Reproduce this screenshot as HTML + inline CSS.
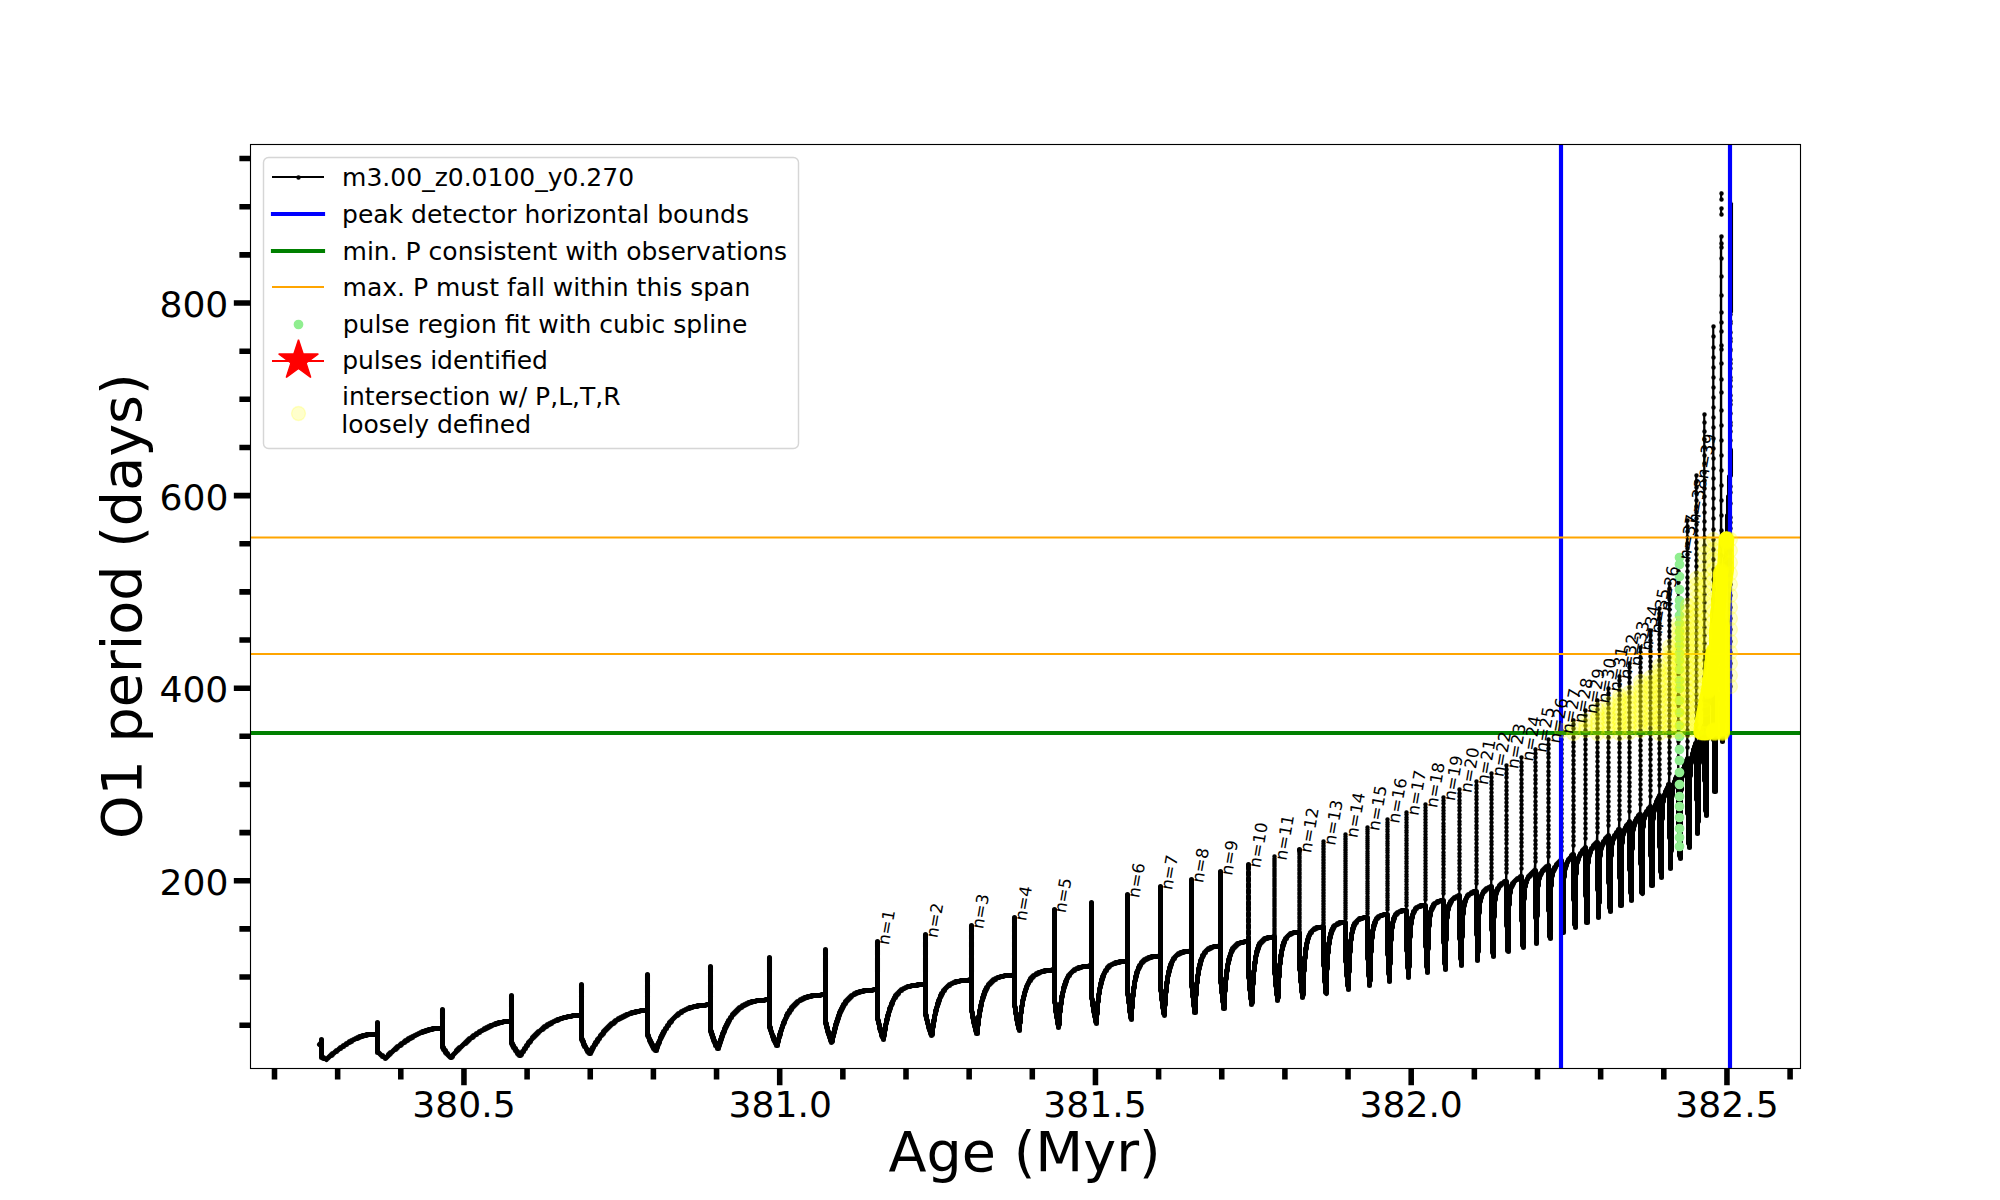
<!DOCTYPE html>
<html lang="en"><head><meta charset="utf-8"><title>O1 period vs Age</title>
<style>html,body{margin:0;padding:0;background:#fff}body{width:2000px;height:1200px;overflow:hidden}svg{display:block}</style>
</head><body>
<svg xmlns="http://www.w3.org/2000/svg" width="2000" height="1200" viewBox="0 0 2000 1200">
<rect width="2000" height="1200" fill="#fff"/>
<clipPath id="ax"><rect x="250" y="144" width="1550" height="924"/></clipPath>
<g clip-path="url(#ax)">
<path d="M319.1 1044l1-1l1.1-0.5l0-3.1l0.2 0.3l0 16.8l2.9 1.6l1.7 0.6l7.6-6.4l7.7-5.7l7.2-4.7l6.8-3.6l5.8-2.5l4.8-1.3l1.8-0.2l9.1 0l0.4-0.5l0-11.4l0.2 0.3l0 28.8l4.8 4.2l1.9 1.3l1.2 0.5l7.1-6.9l7.2-6.1l7.4-5.2l7.3-4.3l7.8-3.5l7.3-2.4l5.8-1l6.7-0.1l0.3-0.5l0-18.9l0.2 0.3l0 38.1l2.5 3.9l2.2 2.9l1.8 2.1l1.5 1.1l7.6-8.3l7.6-7.1l7.7-6.2l7.9-5.2l4.3-2.4l4.1-2l4.1-1.7l3.9-1.4l3.5-0.9l3.5-0.6l6.3-0.2l0.3-0.5l0-25.5l0.2 0.3l0 47.7l2.5 4.3l2.5 3.8l2.2 2.8l1.4 1.1l3-5l3.1-4.5l3.2-4.4l3.2-3.8l3.4-3.6l3.3-3.1l3.5-2.9l3.6-2.6l3.9-2.4l3.6-1.8l4.2-1.8l4.2-1.5l4-1l4-0.8l5.3-0.7l5-0.1l0.7-0.5l0-30.1l0.2 0.3l0 54.3l2.5 5.3l2.1 4l1.9 3.1l1.5 1.6l2.8-5.2l3-5l3-4.5l3-4l3.2-3.9l3.4-3.6l3.3-3l3.6-2.9l3.7-2.5l3.9-2.3l3.7-1.7l4.2-1.6l4.4-1.3l4.4-0.9l4.5-0.5l3.6-0.1l0.1-36l0.2 0.3l0 60.7l2.5 5.8l2.2 4.4l1.8 3.1l1.5 1.7l2.4-6.3l2.3-5.5l2.3-4.8l2.7-4.8l2.7-4.1l2.7-3.6l3-3.4l3-2.8l3.3-2.4l3.4-2.1l3.7-1.8l3.8-1.4l4.4-1.1l4.9-0.9l4.9-0.5l5-0.1l0.3-0.5l0-37.9l0.2 0.3l0 64.7l2.2 6.4l2 5.1l1.7 3.7l1.3 1.8l2.1-6.9l2-6l2.2-5.4l2.2-4.9l2.4-4.4l2.6-4.2l2.8-3.6l2.8-2.9l3.1-2.6l3-2l3.2-1.7l3.8-1.4l4.3-1.2l4.5-0.8l4.9-0.4l5.4-0.2l0.3-0.6l0-41.8l0.2 0.3l0 69.7l2.2 6.9l2.1 5.5l1.6 3.7l1.3 1.9l1.8-7.5l1.9-6.5l2-6l2-5l2.1-4.5l2.4-4.3l2.3-3.4l2.6-3.1l2.6-2.5l2.9-2.1l3.2-1.8l3.8-1.5l3.9-1.1l4.4-0.7l5-0.4l5.4-0.2l0.3-0.6l0-44.8l0.2 0.3l0 73.7l3.4 12.7l1.5 4.3l1.1 2l1.6-7.9l1.7-7l1.7-6.1l1.9-5.6l2-5l2-4l2.3-3.9l2.5-3.2l2.5-2.6l2.5-1.9l2.7-1.6l3.3-1.4l3-0.9l3.6-0.7l5.3-0.6l6.8-0.2l0.4-0.6l0-47.8l0.2 0.3l0 77.7l3.2 13.2l1.4 4.3l1 2l2.8-16l1.5-6.6l1.5-5.6l1.7-5.2l1.7-4.1l1.9-3.6l2.3-3.4l2.4-2.7l2.4-2l2.7-1.6l2.9-1.2l3.5-1l4-0.7l4.9-0.5l5.9-0.3l0.1-50l0.2 0.3l0 80.7l3.5 13.7l1.5 4.3l1 2l0.9-7.6l1.2-7.6l1.3-6.7l1.5-6.1l1.5-5.2l1.7-4.7l1.8-3.6l2.1-3.5l2-2.5l2.3-2.1l2.6-1.8l2.8-1.4l3-1l3.1-0.7l4.9-0.6l6.8-0.5l0.3-0.6l0-53.8l0.2 0.3l0 85.7l3.1 15.1l1.2 4.8l0.9 2.1l0.7-7.6l1-8.1l1.2-7.2l1.3-6.6l1.5-5.7l1.5-4.7l1.8-4.2l1.7-3.1l1.9-2.6l2.2-2.3l2.5-1.9l2.7-1.5l2.6-1l3-0.8l4.9-0.8l6.8-0.5l0.3-0.6l0-56.8l0.2 0.3l0 88.7l2.6 16.1l1.2 5.3l0.8 2.6l0.5-7.7l0.9-8.5l1-7.6l1.2-6.7l1.2-5.7l1.4-4.8l1.6-4.2l1.8-3.7l1.8-2.6l2-2.4l2.5-2l2.7-1.6l2.5-1l3.1-0.8l4.4-0.8l5.9-0.5l0.7-0.6l0-59.8l0.2 0.3l0 92.7l2.3 17l1 5.4l0.7 2.6l0.4-7.7l0.8-8.5l0.9-7.6l1.1-7.2l1.1-5.7l1.4-5.3l1.5-4.2l1.7-3.7l1.6-2.7l2-2.4l2.1-1.8l2.6-1.7l3-1.2l3.4-0.9l4.1-0.7l4.9-0.4l0.2-0.6l0-62.7l0.2 0.3l0 95.7l2.7 16.6l1.1 5.3l0.8 2.6l1.1-16.6l0.8-7.6l1-7.2l1-5.7l1.3-5.3l1.4-4.3l1.6-3.7l1.6-2.7l1.9-2.5l2-1.7l2.3-1.5l2.9-1.2l3.1-0.8l4-0.7l4.9-0.4l0.3-0.7l0-65.9l0.2 0.4l0 98.6l2.1 17.5l0.9 5.9l0.6 2.6l0.9-17.5l0.8-8.1l0.9-7.2l0.9-5.7l1.2-5.3l1.2-4.4l1.5-3.7l1.4-2.8l1.6-2.2l1.9-1.9l2.2-1.6l2.9-1.3l3-0.9l3.6-0.6l4.9-0.4l0.3-0.9l0-68.5l0.2 0.5l0 102.5l2.1 18l0.9 5.8l0.6 2.6l0.9-17.6l1.5-15.3l1-6.2l1-5.3l1.2-4.4l1.3-3.8l1.3-2.9l1.7-2.7l1.8-2l1.8-1.4l2.4-1.2l3-1.1l3.5-0.6l4.5-0.5l0.3-1l0-70.4l0.2 0.5l0 105.5l1.9 18.5l0.8 5.8l0.5 2.7l0.9-18l1.5-15.7l1.8-11.6l1.2-4.8l1.2-3.9l1.2-2.9l1.6-2.7l1.8-2.1l1.7-1.4l2.3-1.4l2.5-0.9l3.6-0.8l4-0.4l0.3-1.2l0-72.8l0.2 0.6l0 109l1.8 18.5l0.9 6.2l0.5 2.7l0.9-18l1.4-16.2l0.9-6.3l1-5.8l1.1-4.8l1.2-3.9l1.2-2.9l1.5-2.8l1.8-2.1l1.7-1.4l1.9-1.2l2.6-0.9l3.1-0.7l4-0.4l0.3-1.7l0-75.3l0.2 0.9l0 111.1l1.8 19.4l1.2 9l1-20.7l1.3-15.8l1.7-11.6l0.9-4.4l1.1-3.9l1.2-2.9l1.3-2.4l1.7-2.1l1.7-1.5l2-1.1l2.1-0.7l3.1-0.6l3.6-0.3l0.1-80l0.2 1.1l0 114.5l1.8 19.4l1.2 9l1-21.2l1.1-15.8l1.5-11.6l0.9-4.5l1.1-3.9l1.1-2.9l1.2-2.5l1.6-2.1l1.7-1.5l1.9-1.2l2.1-0.7l2.7-0.5l3.6-0.4l0.3-2.7l0-79.9l0.2 1.3l0 117.7l1.8 20l1.2 9l0.9-22.1l1.1-16.2l1.3-11.6l0.8-4.5l1-3.9l1.1-3.4l1.2-2.4l1.3-1.9l1.6-1.6l1.9-1.2l2.1-0.8l2.6-0.6l3.6-0.4l0.3-3.1l0-81.9l0.2 1.6l0 121l1.3 20l0.9 9l0.8-22.5l1-16.6l1.2-11.7l0.7-4.4l1-3.9l1.1-3.5l1.1-2.4l1.3-1.9l1.5-1.6l1.9-1.2l2.1-0.8l2.7-0.6l3.1-0.3l0.1-87.6l0.2 1.8l0 124.2l1.5 20l1.1 9l0.7-23.4l0.9-16.7l1.2-11.6l0.7-4.5l0.8-3.9l1-3l1.1-2.5l1.2-1.9l1.5-1.6l1.9-1.2l2.1-0.8l2.7-0.6l3.1-0.3l0.3-4.3l0-85.7l0.2 2.1l0 126.9l1.2 20l0.8 9l0.6-23l0.9-16.8l1-11.7l1.4-8l0.7-2.6l1.1-2.5l1.1-1.9l1.5-1.7l1.5-1.1l2-0.9l2.7-0.6l3.1-0.4l0.2-4.7l0-89.7l0.2 2.4l0 130.7l1 19l0.7 9l0.6-23.5l0.7-16.7l1-11.7l1.2-7.6l0.8-2.6l1-2.5l1.2-2l1.6-1.6l1.5-0.9l2.1-0.8l2.3-0.5l3.1-0.3l0-98.1l0.2 2.6l0 134.2l1.1 19l0.8 9l0.6-24.3l0.7-17.2l0.8-11.2l1.3-7.6l0.7-2.6l1-2.5l1.2-1.9l1.5-1.7l1.4-1l2.1-0.9l2.2-0.6l3.1-0.5l0.3-5.9l0-94.6l0.2 3l0 136.8l0.9 19.5l0.7 9l0.5-24.4l0.6-16.7l0.8-11.3l1.2-7.6l0.6-2.6l1-2.5l1.1-2l1.4-1.7l1.4-1.2l2-1.1l2.1-0.7l3.1-0.7l0.4-6.4l0-96.4l0.2 3.2l0 139.6l0.9 19.9l0.6 9l0.5-24.3l0.5-16.6l0.7-11.3l1-7.6l0.7-3l0.9-2.6l1-2l1.3-1.8l1.3-1.3l1.9-1.2l2-1l2.6-0.8l-0.1-7.1l0-99.1l0.2 3.5l0 143l0.9 20l0.7 9.1l0.4-24.4l0.5-17.2l0.7-11.3l0.9-7.1l0.8-3.1l0.9-2.6l1-2l1.4-1.8l1.2-1.3l1.9-1.3l2-1l3-1l0.5-7.3l0-102.2l0.2 3.6l0 146.2l1 29.2l0.4-24.8l0.4-16.6l0.6-10.8l0.8-7.2l0.6-2.6l0.8-2.6l1.2-2.4l1.2-1.9l1.5-1.7l1.8-1.4l1.9-1.1l2.5-1.1l0.1-112.8l0.2 3.8l0 149.7l0.8 20l0.6 9.5l0.8-42l0.5-10.8l0.8-7.2l0.6-2.6l0.8-2.6l1.1-2.5l1.2-1.9l1.4-1.7l1.7-1.5l1.8-1.3l2.4-1.3l0.3-8.3l0-107.3l0.2 4.1l0 152.5l1.2 29.7l0.7-42.5l0.6-10.8l0.7-6.7l0.6-2.7l0.8-2.6l1.2-2.4l1.2-1.9l1.2-1.4l1.7-1.5l1.8-1.3l2.8-1.5l0.3-8.5l0-110.1l0.2 4.2l0 155.3l1.2 29.7l0.7-42.1l0.4-10.8l0.7-6.7l0.5-2.7l0.7-2.6l1-2.5l1.1-2l1.2-1.9l1.5-1.8l4.1-3.5l0.7-8.7l0-112.7l0.2 4.3l0 159.1l0.8 30.5l0.6-43.4l0.5-10.8l0.6-6.8l0.5-2.6l0.8-2.6l1-2.6l1.1-1.9l1.3-1.9l1.5-1.7l3.8-3.2l0.3-9l0-116.6l0.2 4.5l0 163.3l1.2 30.6l0.6-43.3l0.4-10.8l0.6-6.7l0.4-2.7l0.8-2.6l2-4.5l2.6-3.7l3.8-3.8l0.4-9.3l0-120.4l0.2 4.6l0 167l1.1 30.4l0.5-43.8l0.4-10.8l0.6-6.3l1-4.9l1.9-4.6l2.5-3.8l3.6-4l0.2-9l0-125.3l0.2 4.5l0 172.3l0.8 20.8l0.5 9.9l0.5-44.6l0.4-10.8l0.5-6.8l1-4.8l1.9-4.6l2.3-3.8l3.5-4.2l0.4-9.8l0-127.6l0.2 4.9l0 176l1.1 31.5l0.5-46l0.4-11.3l0.5-6.7l0.9-4.4l1.8-4.6l2.5-3.8l3.6-4l0.5-9.5l0-132.6l0.2 4.7l0 181.2l1 31.7l0.5-46.4l0.3-11.7l0.6-6.7l0.8-4.4l1.8-4.7l2.3-3.8l3.4-4.2l0.1-147.2l0.2 4.9l0 186.4l0.8 21.6l0.6 10.4l0.5-47l0.3-11.7l0.5-6.8l0.8-4.5l1.5-4.2l2.1-4l3.3-4.3l0.4-9.6l0-143.7l0.2 4.8l0 192.9l1.1 32.2l0.5-47.3l0.3-11.7l0.4-7.2l0.8-4.9l1.5-4.2l2.3-4.4l3-4.5l-0.1-9.9l0-148.8l0.2 5l0 199.2l0.9 22.5l0.7 10.4l0.5-49.1l0.3-12.2l0.4-7.2l0.8-4.4l1.4-4.3l2.1-4l3.3-4.8l0.4-9.8l0-156.8l0.2 4.9l0 207.5l1.1 33.2l0.4-49.1l0.4-12.6l0.4-7.2l0.7-4.4l1.3-4.3l2.2-4.5l2.9-4.5l0.4-10.4l0-165.6l0.2 5.2l0 216.6l1.1 33.2l0.4-48.7l0.3-12.7l0.4-7.6l0.7-5l1.2-4.8l1.9-5.1l2.8-6.1l0-187.5l0.2 5.2l0 230.1l0.9 23.7l0.6 10.9l0.4-50.9l0.3-13.1l0.4-8.1l0.7-5.3l1.3-4.8l1.8-5.1l2.9-6.1l0.5-10.6l0-190.4l0.2 5.3l0 244.5l1 35.3l0.4-52.4l0.3-13.6l0.5-8.1l0.6-5.4l1.2-4.8l1.9-5.6l2.7-6.2l0.2-10.3l0-205.7l0.2 5.1l0 260.9l0.8 24.9l0.5 11.3l0.4-52.8l0.3-14l0.4-9l0.7-5.8l1.1-5.3l1.8-6.1l2.6-7.2l0.2-11.3l0-226.7l0.2 5.7l0 284l0.8 25.7l0.5 11.7l0.4-54.5l0.3-14.4l0.4-9.5l0.6-6.2l1-5.8l1.8-7l2.5-7.7l0.5-12.1l0-254.6l0.2 6.1l0 313.4l1 38.3l0.6-53.7l0.5-16.6l0.5-11.3l0.6-7.2l0.8-5.4l1.1-4.8l2.6-9.1l0.1-310.7l0.2 8.2l0 354.7l0.8 25.7l0.6 12.1l0.6-68.5l0.8-37.3l0.6-10.8l0.8-9.9l4.2-38.5l0.4-20.2l0-303.5l0.2 10.1l0 395.4l1.1 59.2l0.6-93.7l0.8-52.2l0.5-15.3l0.7-13.5l3.5-46.3l0.3-15l0-319M1721.1 213.7l0-5.4M1721.1 199l0-6.3M1721.2 236l0.1 479l0.1-45.3l0.5 71.3l-0.3-50.9l0-40l1-50l2.2-30l1.4-24.8l1.2-28.3l1.8-32.8l0.5-14.4l0.3-19.8l0-244l0.2-3l0.1 482.9" fill="none" stroke="#000" stroke-width="2.083" stroke-linejoin="round" stroke-linecap="square"/>
<g transform="translate(.5 .5)" fill="none" stroke="#000" stroke-linecap="round" stroke-linejoin="round">
<path d="M319 1044l1 -1l1 -1v-1v-1v-1v1v1v1v1v1v1v1v1v1v1v1v1v1v1v1v1v1v1h1h1v1h1h1l1 1v-1h1l1 -1l1 -1l1 -1h1v-1h1v-1h1l1 -1l1 -1h1v-1h1l1 -1l1 -1h1v-1h1l1 -1h1v-1h1l1 -1h1v-1h1l1 -1h1v-1h1h1v-1h1l1 -1h1l1 -1h1h1v-1h1h1v-1h1h1h1v-1h1h1h1h1v-1h1h1h1h1h1h1h1h1h1h1h1v-1v-1v-1v-1v-1v-1v-1v-1v-1v-1v-1v-1v1v1v1v1v1v1v1v1v1v1v1v1v1v1v1v1v1v1v1v1v1v1v1v1v1v1v1v1v1v1h1l1 1l1 1l1 1h1v1h1l1 1h1v1l1 -1l1 -1l1 -1v-1h1v-1h1v-1h1l1 -1l1 -1l1 -1h1v-1h1v-1h1v-1h1l1 -1h1v-1h1v-1h1l1 -1h1v-1h1v-1h1h1v-1h1v-1h1h1v-1h1h1v-1h1l1 -1h1l1 -1h1l1 -1h1l1 -1h1h1v-1h1h1h1v-1h1h1h1v-1h1h1h1h1v-1h1h1h1h1h1h1h1h1h1h1v-1v-1v-1v-1v-1v-1v-1v-1v-1v-1v-1v-1v-1v-1v-1v-1v-1v-1v-1v1v1v1v1v1v1v1v1v1v1v1v1v1v1v1v1v1v1v1v1v1v1v1v1v1v1v1v1v1v1v1v1v1v1v1v1v1v1h1v1v1h1v1h1v1v1h1v1h1v1l1 1l1 1l1 1h1v-1h1v-1l1 -1l1 -1l1 -1l1 -1v-1h1v-1h1v-1h1v-1h1l1 -1l1 -1l1 -1l1 -1h1v-1h1v-1h1v-1h1v-1h1v-1h1l1 -1h1v-1h1v-1h1l1 -1h1v-1h1l1 -1h1v-1h1l1 -1h1l1 -1h1v-1h1h1v-1h1h1v-1h1h1v-1h1h1l1 -1h1h1v-1h1h1h1v-1h1h1h1h1l1 -1h1h1h1h1h1h1h1h1v-1v-1v-1v-1v-1v-1v-1v-1v-1v-1v-1v-1v-1v-1v-1v-1v-1v-1v-1v-1v-1v-1v-1v-1v-1v-1v1v1v1v1v1v1v1v1v1v1v1v1v1v1v1v1v1v1v1v1v1v1v1v1v1v1v1v1v1v1v1v1v1v1v1v1v1v1v1v1v1v1v1v1v1v1v1v1h1v1v1h1v1v1h1v1h1v1v1h1v1h1v1v1h1v1h1v1h1v-1h1v-1l1 -1v-1h1v-1l1 -1v-1h1v-1l1 -1v-1h1v-1l1 -1v-1h1v-1h1v-1l1 -1l1 -1v-1h1v-1h1v-1h1v-1h1v-1h1v-1h1v-1h1l1 -1l1 -1h1v-1h1v-1h1v-1h1h1v-1h1v-1h1h1v-1h1h1v-1h1l1 -1h1l1 -1h1h1v-1h1h1l1 -1h1h1l1 -1h1h1h1l1 -1h1h1h1h1l1 -1h1h1h1h1h1h1h1h1h1v-1v-1v-1v-1v-1v-1v-1v-1v-1v-1v-1v-1v-1v-1v-1v-1v-1v-1v-1v-1v-1v-1v-1v-1v-1v-1v-1v-1v-1v-1v-1v1v1v1v1v1v1v1v1v1v1v1v1v1v1v1v1v1v1v1v1v1v1v1v1v1v1v1v1v1v1v1v1v1v1v1v1v1v1v1v1v1v1v1v1v1v1v1v1v1v1v1v1v1v1v1h1v1v1h1v1v1v1h1v1v1h1v1l1 1v1h1v1v1h1v1h1v1h1v-1v-1h1v-1v-1h1v-1v-1h1v-1l1 -1v-1h1v-1v-1h1v-1h1v-1v-1h1v-1h1v-1l1 -1v-1h1v-1h1v-1h1v-1v-1h1v-1h1v-1h1v-1h1v-1h1v-1h1v-1h1v-1h1v-1h1h1v-1h1v-1h1v-1h1l1 -1h1v-1h1h1v-1h1h1v-1h1h1v-1h1h1v-1h1h1l1 -1h1h1v-1h1h1h1h1v-1h1h1h1h1l1 -1h1h1h1h1h1h1h1v-1v-1v-1v-1v-1v-1v-1v-1v-1v-1v-1v-1v-1v-1v-1v-1v-1v-1v-1v-1v-1v-1v-1v-1v-1v-1v-1v-1v-1v-1v-1v-1v-1v-1v-1v-1v1v1v1v1v1v1v1v1v1v1v1v1v1v1v1v1v1v1v1v1v1v1v1v1v1v1v1v1v1v1v1v1v1v1v1v1v1v1v1v1v1v1v1v1v1v1v1v1v1v1v1v1v1v1v1v1v1v1v1v1v1h1v1v1l1 1v1v1h1v1v1h1v1v1h1v1v1h1v1v1h1v1h1v1h1v-1v-1v-1h1v-1v-1v-1h1v-1v-1h1v-1v-1l1 -1v-1v-1h1v-1v-1h1v-1v-1h1v-1v-1h1v-1l1 -1v-1h1v-1l1 -1v-1h1v-1l1 -1v-1h1v-1h1v-1l1 -1l1 -1l1 -1l1 -1l1 -1h1v-1h1v-1h1l1 -1h1v-1h1l1 -1h1l1 -1h1l1 -1h1h1v-1h1h1h1l1 -1h1h1h1h1v-1h1h1h1h1h1h1h1h1l1 -1h1h1h1h1v-1v-1v-1v-1v-1v-1v-1v-1v-1v-1v-1v-1v-1v-1v-1v-1v-1v-1v-1v-1v-1v-1v-1v-1v-1v-1v-1v-1v-1v-1v-1v-1v-1v-1v-1v-1v-1v-1v1v1v1v1v1v1v1v1v1v1v1v1v1v1v1v1v1v1v1v1v1v1v1v1v1v1v1v1v1v1v1v1v1v1v1v1v1v1v1v1v1v1v1v1v1v1v1v1v1v1v1v1v1v1v1v1v1v1v1v1v1v1v1v1v1h1v1v1v1h1v1v1v1h1v1v1v1h1v1v1h1v1v1v1h1v1l1 1v1h1v-1v-1v-1h1v-1v-1v-1h1v-1v-1v-1h1v-1v-1v-1h1v-1v-1v-1h1v-1v-1h1v-1v-1v-1h1v-1v-1h1v-1v-1h1v-1v-1h1v-1v-1h1v-1l1 -1v-1h1v-1l1 -1v-1h1v-1h1v-1h1v-1h1v-1h1v-1h1v-1h1v-1h1h1v-1h1v-1h1h1v-1h1h1v-1h1h1v-1h1h1h1v-1h1h1h1h1l1 -1h1h1h1h1h1h1h1h1l1 -1h1h1h1h1v-1v-1v-1v-1v-1v-1v-1v-1v-1v-1v-1v-1v-1v-1v-1v-1v-1v-1v-1v-1v-1v-1v-1v-1v-1v-1v-1v-1v-1v-1v-1v-1v-1v-1v-1v-1v-1v-1v-1v-1v-1v-1v1v1v1v1v1v1v1v1v1v1v1v1v1v1v1v1v1v1v1v1v1v1v1v1v1v1v1v1v1v1v1v1v1v1v1v1v1v1v1v1v1v1v1v1v1v1v1v1v1v1v1v1v1v1v1v1v1v1v1v1v1v1v1v1v1v1v1v1v1v1h1v1v1v1l1 1v1v1l1 1v1v1h1v1v1v1h1v1v1l1 1v1l1 1v1h1v-1v-1v-1v-1h1v-1v-1v-1l1 -1v-1v-1v-1h1v-1v-1v-1l1 -1v-1v-1l1 -1v-1v-1l1 -1v-1v-1h1v-1v-1l1 -1v-1l1 -1v-1v-1h1v-1v-1h1v-1h1v-1v-1h1v-1h1v-1v-1h1v-1h1v-1h1v-1h1v-1h1v-1h1v-1h1l1 -1h1v-1h1h1v-1h1h1v-1h1h1h1v-1h1h1h1h1v-1h1h1h1h1h1h1h1h1h1l1 -1h1h1h1h1v-1v-1v-1v-1v-1v-1v-1v-1v-1v-1v-1v-1v-1v-1v-1v-1v-1v-1v-1v-1v-1v-1v-1v-1v-1v-1v-1v-1v-1v-1v-1v-1v-1v-1v-1v-1v-1v-1v-1v-1v-1v-1v-1v-1v-1v1v1v1v1v1v1v1v1v1v1v1v1v1v1v1v1v1v1v1v1v1v1v1v1v1v1v1v1v1v1v1v1v1v1v1v1v1v1v1v1v1v1v1v1v1v1v1v1v1v1v1v1v1v1v1v1v1v1v1v1v1v1v1v1v1v1v1v1v1v1v1v1v1v1h1v1v1v1v1h1v1v1v1v1h1v1v1v1l1 1v1v1l1 1v1v1h1v1v1l1 -1v-1v-1v-1v-1l1 -1v-1v-1v-1v-1h1v-1v-1v-1v-1h1v-1v-1v-1v-1h1v-1v-1v-1h1v-1v-1v-1h1v-1v-1v-1h1v-1v-1v-1h1v-1v-1h1v-1v-1h1v-1v-1h1v-1v-1h1v-1h1v-1v-1h1v-1h1v-1h1v-1h1v-1h1v-1h1v-1h1l1 -1h1v-1h1h1v-1h1h1h1v-1h1h1h1h1v-1h1h1h1h1h1h1h1h1h1l1 -1h1h1h1h1v-1v-1v-1v-1v-1v-1v-1v-1v-1v-1v-1v-1v-1v-1v-1v-1v-1v-1v-1v-1v-1v-1v-1v-1v-1v-1v-1v-1v-1v-1v-1v-1v-1v-1v-1v-1v-1v-1v-1v-1v-1v-1v-1v-1v-1v-1v-1v-1v1v1v1v1v1v1v1v1v1v1v1v1v1v1v1v1v1v1v1v1v1v1v1v1v1v1v1v1v1v1v1v1v1v1v1v1v1v1v1v1v1v1v1v1v1v1v1v1v1v1v1v1v1v1v1v1v1v1v1v1v1v1v1v1v1v1v1v1v1v1v1v1v1v1v1v1v1v1l1 1v1v1v1l1 1v1v1v1v1h1v1v1v1l1 1v1v1v1h1v1v1l1 1v1v-1v-1v-1v-1h1v-1v-1v-1v-1v-1v-1h1v-1v-1v-1v-1v-1l1 -1v-1v-1v-1v-1h1v-1v-1v-1v-1h1v-1v-1v-1l1 -1v-1v-1v-1h1v-1v-1l1 -1v-1v-1h1v-1v-1l1 -1v-1l1 -1v-1h1v-1v-1h1v-1h1v-1h1v-1l1 -1l1 -1h1v-1h1l1 -1h1l1 -1h1l1 -1h1h1h1l1 -1h1h1h1h1h1h1v-1h1h1h1h1h1h1h1h1v-1v-1v-1v-1v-1v-1v-1v-1v-1v-1v-1v-1v-1v-1v-1v-1v-1v-1v-1v-1v-1v-1v-1v-1v-1v-1v-1v-1v-1v-1v-1v-1v-1v-1v-1v-1v-1v-1v-1v-1v-1v-1v-1v-1v-1v-1v-1v-1v-1v-1v1v1v1v1v1v1v1v1v1v1v1v1v1v1v1v1v1v1v1v1v1v1v1v1v1v1v1v1v1v1v1v1v1v1v1v1v1v1v1v1v1v1v1v1v1v1v1v1v1v1v1v1v1v1v1v1v1v1v1v1v1v1v1v1v1v1v1v1v1v1v1v1v1v1v1v1v1v1v1v1v1h1v1v1v1v1l1 1v1v1v1l1 1v1v1v1h1v1v1v1l1 1v1v1h1v1v1v-1h1v-1v-1v-1v-1v-1v-1v-1v-1h1v-1v-1v-1v-1v-1v-1h1v-1v-1v-1v-1v-1l1 -1v-1v-1v-1v-1h1v-1v-1v-1l1 -1v-1v-1v-1h1v-1v-1v-1h1v-1v-1l1 -1v-1v-1h1v-1v-1h1v-1l1 -1v-1h1v-1l1 -1l1 -1l1 -1l1 -1h1v-1h1l1 -1h1l1 -1h1h1v-1h1h1h1h1l1 -1h1h1h1h1h1h1h1h1h1v-1h1h1v-1v-1v-1v-1v-1v-1v-1v-1v-1v-1v-1v-1v-1v-1v-1v-1v-1v-1v-1v-1v-1v-1v-1v-1v-1v-1v-1v-1v-1v-1v-1v-1v-1v-1v-1v-1v-1v-1v-1v-1v-1v-1v-1v-1v-1v-1v-1v-1v-1v-1v-1v-1v-1v-1v1v1v1v1v1v1v1v1v1v1v1v1v1v1v1v1v1v1v1v1v1v1v1v1v1v1v1v1v1v1v1v1v1v1v1v1v1v1v1v1v1v1v1v1v1v1v1v1v1v1v1v1v1v1v1v1v1v1v1v1v1v1v1v1v1v1v1v1v1v1v1v1v1v1v1v1v1v1v1v1v1v1v1v1v1v1l1 1v1v1v1v1v1h1v1v1v1v1v1h1v1v1v1v1l1 1v1v1v1h1v1v1v1h1v-1v-1v-1v-1v-1v-1v-1v-1v-1h1v-1v-1v-1v-1v-1v-1v-1v-1h1v-1v-1v-1v-1v-1v-1h1v-1v-1v-1v-1v-1h1v-1v-1v-1v-1l1 -1v-1v-1v-1h1v-1v-1v-1h1v-1v-1v-1h1v-1v-1h1v-1v-1h1v-1l1 -1v-1h1v-1h1v-1h1v-1h1v-1h1v-1h1h1v-1h1l1 -1h1h1l1 -1h1h1h1l1 -1h1h1h1h1h1h1h1h1l1 -1h1v-1v-1v-1v-1v-1v-1v-1v-1v-1v-1v-1v-1v-1v-1v-1v-1v-1v-1v-1v-1v-1v-1v-1v-1v-1v-1v-1v-1v-1v-1v-1v-1v-1v-1v-1v-1v-1v-1v-1v-1v-1v-1v-1v-1v-1v-1v-1v-1v-1v-1v-1v-1v-1v-1v-1v-1v-1v1v1v1v1v1v1v1v1v1v1v1v1v1v1v1v1v1v1v1v1v1v1v1v1v1v1v1v1v1v1v1v1v1v1v1v1v1v1v1v1v1v1v1v1v1v1v1v1v1v1v1v1v1v1v1v1v1v1v1v1v1v1v1v1v1v1v1v1v1v1v1v1v1v1v1v1v1v1v1v1v1v1v1v1v1v1v1v1v1l1 1v1v1v1v1v1v1l1 1v1v1v1v1v1h1v1v1v1v1v1l1 1v1v1v1l1 1v1v-1v-1v-1v-1v-1v-1v-1l1 -1v-1v-1v-1v-1v-1v-1v-1v-1v-1l1 -1v-1v-1v-1v-1v-1v-1l1 -1v-1v-1v-1v-1v-1l1 -1v-1v-1v-1l1 -1v-1v-1v-1l1 -1v-1v-1l1 -1v-1v-1l1 -1v-1l1 -1v-1l1 -1v-1h1v-1v-1h1v-1h1v-1h1v-1h1l1 -1h1v-1h1h1v-1h1h1l1 -1h1h1h1v-1h1h1h1h1h1h1h1h1v-1h1h1v-1v-1v-1v-1v-1v-1v-1v-1v-1v-1v-1v-1v-1v-1v-1v-1v-1v-1v-1v-1v-1v-1v-1v-1v-1v-1v-1v-1v-1v-1v-1v-1v-1v-1v-1v-1v-1v-1v-1v-1v-1v-1v-1v-1v-1v-1v-1v-1v-1v-1v-1v-1v-1v-1v-1v-1v-1v-1v-1v-1v1v1v1v1v1v1v1v1v1v1v1v1v1v1v1v1v1v1v1v1v1v1v1v1v1v1v1v1v1v1v1v1v1v1v1v1v1v1v1v1v1v1v1v1v1v1v1v1v1v1v1v1v1v1v1v1v1v1v1v1v1v1v1v1v1v1v1v1v1v1v1v1v1v1v1v1v1v1v1v1v1v1v1v1v1v1v1v1v1v1v1v1v1l1 1v1v1v1v1v1v1v1v1h1v1v1v1v1v1v1l1 1v1v1v1v1v1h1v1v1v1v1v-1v-1l1 -1v-1v-1v-1v-1v-1v-1v-1v-1v-1v-1v-1v-1l1 -1v-1v-1v-1v-1v-1v-1v-1v-1h1v-1v-1v-1v-1v-1v-1v-1h1v-1v-1v-1v-1l1 -1v-1v-1v-1v-1h1v-1v-1v-1h1v-1v-1v-1h1v-1v-1l1 -1v-1l1 -1v-1h1v-1l1 -1l1 -1l1 -1l1 -1h1v-1h1l1 -1h1h1v-1h1h1h1l1 -1h1h1h1h1h1h1l1 -1h1h1v-1v-1v-1v-1v-1v-1v-1v-1v-1v-1v-1v-1v-1v-1v-1v-1v-1v-1v-1v-1v-1v-1v-1v-1v-1v-1v-1v-1v-1v-1v-1v-1v-1v-1v-1v-1v-1v-1v-1v-1v-1v-1v-1v-1v-1v-1v-1v-1v-1v-1v-1v-1v-1v-1v-1v-1v-1v-1v-1v-1v-1v-1v-1v1v1v1v1v1v1v1v1v1v1v1v1v1v1v1v1v1v1v1v1v1v1v1v1v1v1v1v1v1v1v1v1v1v1v1v1v1v1v1v1v1v1v1v1v1v1v1v1v1v1v1v1v1v1v1v1v1v1v1v1v1v1v1v1v1v1v1v1v1v1v1v1v1v1v1v1v1v1v1v1v1v1v1v1v1v1v1v1v1v1v1v1v1v1v1v1l1 1v1v1v1v1v1v1l1 1v1v1v1v1v1h1v1v1v1v1v1l1 1v1v1v1v1h1v1v1v-1v-1v-1v-1v-1v-1v-1v-1v-1v-1h1v-1v-1v-1v-1v-1v-1v-1v-1v-1v-1v-1l1 -1v-1v-1v-1v-1v-1v-1v-1l1 -1v-1v-1v-1v-1v-1l1 -1v-1v-1v-1v-1h1v-1v-1v-1v-1h1v-1v-1v-1h1v-1v-1l1 -1v-1l1 -1v-1h1v-1l1 -1v-1h1v-1h1v-1h1l1 -1h1l1 -1h1h1v-1h1h1h1h1v-1h1h1h1h1h1h1h1h1v-1v-1v-1v-1v-1v-1v-1v-1v-1v-1v-1v-1v-1v-1v-1v-1v-1v-1v-1v-1v-1v-1v-1v-1v-1v-1v-1v-1v-1v-1v-1v-1v-1v-1v-1v-1v-1v-1v-1v-1v-1v-1v-1v-1v-1v-1v-1v-1v-1v-1v-1v-1v-1v-1v-1v-1v-1v-1v-1v-1v-1v-1v-1v-1v-1v-1v-1v1v1v1v1v1v1v1v1v1v1v1v1v1v1v1v1v1v1v1v1v1v1v1v1v1v1v1v1v1v1v1v1v1v1v1v1v1v1v1v1v1v1v1v1v1v1v1v1v1v1v1v1v1v1v1v1v1v1v1v1v1v1v1v1v1M1127 961v1v1v1v1v1v1v1v1v1v1v1v1v1v1v1v1v1v1v1v1v1v1v1v1v1v1v1v1v1v1v1v1v1h1v1v1v1v1v1v1v1v1l1 1v1v1v1v1v1v1v1v1h1v1v1v1v1v1v1h1v1v1v-1v-1v-1v-1v-1v-1v-1v-1v-1v-1v-1l1 -1v-1v-1v-1v-1v-1v-1v-1v-1v-1v-1v-1v-1h1v-1v-1v-1v-1v-1v-1v-1v-1h1v-1v-1v-1v-1v-1v-1l1 -1v-1v-1v-1v-1h1v-1v-1v-1v-1h1v-1v-1l1 -1v-1v-1h1v-1v-1h1v-1l1 -1v-1h1v-1h1v-1h1v-1h1h1v-1h1h1v-1h1h1h1v-1h1h1h1h1h1h1h1l1 -1h1v-1v-1v-1v-1v-1v-1v-1v-1v-1v-1v-1v-1v-1v-1v-1v-1v-1v-1v-1v-1v-1v-1v-1v-1v-1v-1v-1v-1v-1v-1v-1v-1v-1v-1v-1v-1v-1v-1v-1v-1v-1v-1v-1v-1v-1v-1v-1v-1v-1v-1v-1v-1v-1v-1v-1v-1v-1v-1v-1v-1v-1v-1v-1v-1v-1v-1v-1v-1v-1v1v1v1v1v1v1v1v1v1v1v1v1v1v1v1v1v1v1v1v1v1v1v1v1v1v1v1v1v1v1v1v1v1v1v1v1v1v1v1v1v1v1v1v1v1v1v1v1v1v1v1v1v1v1v1v1v1v1v1v1v1v1v1v1v1v1v1v1v1v1v1v1v1v1v1v1v1v1v1v1v1v1v1v1v1v1v1v1v1v1v1v1v1v1v1v1v1v1v1v1v1v1v1v1h1v1v1v1v1v1v1v1v1v1h1v1v1v1v1v1v1v1v1h1v1v1v1v1v1v1l1 1v1v-1v-1v-1v-1v-1v-1v-1v-1v-1v-1v-1h1v-1v-1v-1v-1v-1v-1v-1v-1v-1v-1v-1v-1v-1h1v-1v-1v-1v-1v-1v-1v-1v-1v-1h1v-1v-1v-1v-1v-1v-1l1 -1v-1v-1v-1v-1h1v-1v-1v-1v-1h1v-1v-1v-1h1v-1v-1l1 -1v-1l1 -1v-1h1v-1l1 -1l1 -1l1 -1h1v-1h1h1v-1h1h1h1v-1h1h1h1h1h1h1h1v-1h1v-1v-1v-1v-1v-1v-1v-1v-1v-1v-1v-1v-1v-1v-1v-1v-1v-1v-1M1191 930v-1v-1v-1v-1v-1v-1v-1v-1v-1v-1v-1v-1v-1v-1v-1v-1v-1v-1v-1M1191 909v-1v-1v-1v-1v-1v-1v-1v-1v-1v-1v-1v-1v-1v-1v-1v-1v-1v-1v-1M1191 888v-1v-1v-1v-1v-1v-1v-1v-1v-1v1v1v1v1v1v1v1v1v1v1v1v1v1v1v1v1v1v1v1v1M1191 901v1v1v1v1v1v1v1v1v1v1v1v1v1v1v1v1v1v1v1M1191 922v1v1v1v1v1v1v1v1v1v1v1v1v1v1v1v1v1v1v1M1191 943v1v1v1v1v1v1v1v1v1v1v1v1v1v1v1v1v1v1v1v1v1v1v1v1v1v1v1v1v1v1v1v1v1v1v1v1v1v1v1v1v1v1v1h1v1v1v1v1v1v1v1v1v1v1l1 1v1v1v1v1v1v1v1v1h1v1v1v1v1v1v1v1h1v-1v-1v-1v-1v-1v-1v-1v-1v-1v-1v-1v-1v-1v-1v-1v-1v-1v-1h1v-1v-1v-1v-1v-1v-1v-1v-1v-1v-1v-1l1 -1v-1v-1v-1v-1v-1v-1v-1l1 -1v-1v-1v-1v-1v-1v-1h1v-1v-1v-1v-1h1v-1v-1v-1v-1h1v-1v-1l1 -1v-1v-1h1v-1l1 -1v-1h1v-1l1 -1l1 -1h1v-1h1h1v-1h1h1l1 -1h1h1h1h1h1h1v-1h1v-1v-1v-1v-1M1220 939v-1v-1v-1v-1M1220 933v-1v-1v-1v-1M1220 927v-1v-1v-1v-1v-1M1220 920v-1v-1v-1v-1M1220 914v-1v-1v-1v-1M1220 908v-1v-1v-1v-1M1220 902v-1v-1v-1v-1M1220 896v-1v-1v-1v-1M1220 890v-1v-1v-1v-1v-1M1220 883v-1v-1v-1v-1M1220 877v-1v-1v-1v-1M1220 871v1v1v1M1220 876v1v1v1v1M1220 882v1v1v1v1M1220 888v1v1v1v1v1M1220 895v1v1v1v1M1220 901v1v1v1v1M1220 907v1v1v1v1M1220 913v1v1v1v1M1220 919v1v1v1v1M1220 925v1v1v1v1v1M1220 932v1v1v1v1M1220 938v1v1v1v1M1220 944v1v1v1v1v1v1v1v1v1v1v1v1v1v1v1v1v1v1v1v1v1v1v1v1v1v1v1v1v1v1v1v1v1v1v1v1v1v1h1v1v1v1v1v1v1v1v1v1v1l1 1v1v1v1v1v1v1v1v1l1 1v1v1v1v1v1v1h1v-1v-1v-1v-1v-1v-1v-1v-1v-1v-1v-1v-1v-1v-1v-1v-1v-1v-1h1v-1v-1v-1v-1v-1v-1v-1v-1v-1v-1v-1v-1h1v-1v-1v-1v-1v-1v-1v-1v-1h1v-1v-1v-1v-1v-1v-1l1 -1v-1v-1v-1v-1h1v-1v-1v-1l1 -1v-1v-1l1 -1v-1v-1h1v-1v-1h1v-1h1v-1h1v-1h1v-1h1v-1h1h1l1 -1h1h1h1l1 -1h1h1h1h1M1248 939v-1M1248 932v-1M1248 927v-1M1248 920v-1M1248 915v-1M1248 908v-1M1248 903v-1M1248 898v-1M1248 891v-1M1248 886v-1M1248 879v-1M1248 874v-1M1248 867v-1M1248 864v1M1248 867v1M1248 872v1M1248 879v1M1248 884v1M1248 891v1M1248 896v1M1248 903v1M1248 908v1M1248 913v1M1248 920v1M1248 925v1M1248 932v1M1248 937v1M1248 941v1v1v1v1v1v1v1v1v1v1v1v1v1v1v1v1v1v1v1v1v1v1v1v1v1v1v1v1v1v1v1v1v1v1v1v1h1v1v1v1v1v1v1v1v1v1v1v1v1h1v1v1v1v1v1v1v1v1v1l1 1v1v1v1v1v1v-1v-1h1v-1v-1v-1v-1v-1v-1v-1v-1v-1v-1v-1v-1v-1v-1v-1v-1v-1v-1v-1h1v-1v-1v-1v-1v-1v-1v-1v-1v-1v-1v-1v-1l1 -1v-1v-1v-1v-1v-1v-1v-1v-1h1v-1v-1v-1v-1v-1v-1l1 -1v-1v-1v-1v-1h1v-1v-1v-1h1v-1v-1v-1h1v-1v-1h1v-1h1v-1h1v-1h1v-1h1v-1h1h1h1v-1h1h1h1h1h1l1 -1h1M1274 936v1v1v1v1v1v1v1v1v1v1v1v1v1v1v1v1v1v1v1v1v1v1v1v1v1v1v1v1v1v1v1v1v1v1v1v1v1h1v1v1v1v1v1v1v1v1v1v1v1v1h1v1v1v1v1v1v1v1v1v1l1 1v1v1v1v1v1v-1v-1l1 -1v-1v-1v-1v-1v-1v-1v-1v-1v-1v-1v-1v-1v-1v-1v-1v-1v-1v-1v-1v-1l1 -1v-1v-1v-1v-1v-1v-1v-1v-1v-1v-1v-1v-1l1 -1v-1v-1v-1v-1v-1v-1v-1v-1h1v-1v-1v-1v-1v-1l1 -1v-1v-1v-1v-1h1v-1v-1v-1h1v-1v-1l1 -1v-1h1v-1l1 -1l1 -1l1 -1h1v-1h1h1l1 -1h1h1h1h1h1h1M1299 849v1M1299 932v1v1v1v1v1v1v1v1v1v1v1v1v1v1v1v1v1v1v1v1v1v1v1v1v1v1v1v1v1v1v1v1v1v1v1v1v1h1v1v1v1v1v1v1v1v1v1v1v1v1h1v1v1v1v1v1v1v1v1v1v1h1v1v1v1v1v1v1v-1v-1v-1h1v-1v-1v-1v-1v-1v-1v-1v-1v-1v-1v-1v-1v-1v-1v-1v-1v-1v-1v-1v-1v-1v-1v-1l1 -1v-1v-1v-1v-1v-1v-1v-1v-1v-1v-1v-1v-1v-1h1v-1v-1v-1v-1v-1v-1v-1v-1v-1h1v-1v-1v-1v-1v-1l1 -1v-1v-1v-1l1 -1v-1v-1l1 -1v-1l1 -1v-1h1v-1l1 -1l1 -1h1v-1h1h1v-1h1h1h1h1h1h1v-1h1M1323 926v1v1v1v1v1v1v1v1v1v1v1v1v1v1v1v1v1v1v1v1v1v1v1v1v1v1v1v1v1v1v1v1v1v1v1v1v1v1v1l1 1v1v1v1v1v1v1v1v1v1v1v1v1v1v1v1h1v1v1v1v1v1v1v1v1v1v1v1l1 1v-1v-1v-1v-1v-1v-1v-1v-1v-1v-1v-1v-1v-1v-1v-1v-1v-1v-1v-1v-1v-1v-1v-1v-1v-1h1v-1v-1v-1v-1v-1v-1v-1v-1v-1v-1v-1v-1v-1v-1v-1l1 -1v-1v-1v-1v-1v-1v-1v-1v-1v-1h1v-1v-1v-1v-1v-1v-1h1v-1v-1v-1v-1h1v-1v-1v-1h1v-1v-1h1v-1v-1h1v-1h1l1 -1h1v-1h1h1v-1h1h1h1h1h1h1M1345 922v1v1v1v1v1v1v1v1v1v1v1v1v1v1v1v1v1v1v1v1v1v1v1v1v1v1v1v1v1v1v1v1v1v1v1v1v1v1v1l1 1v1v1v1v1v1v1v1v1v1v1v1v1v1h1v1v1v1v1v1v1v1v1v1v1l1 1v1v1v1v-1v-1v-1v-1v-1v-1v-1v-1v-1v-1v-1v-1v-1v-1v-1v-1v-1l1 -1v-1v-1v-1v-1v-1v-1v-1v-1v-1v-1v-1v-1v-1v-1v-1v-1v-1v-1v-1v-1h1v-1v-1v-1v-1v-1v-1v-1v-1v-1v-1v-1l1 -1v-1v-1v-1v-1v-1v-1l1 -1v-1v-1v-1v-1h1v-1v-1v-1h1v-1v-1h1v-1h1v-1l1 -1l1 -1h1v-1h1h1h1l1 -1h1h1h1h1M1367 917v1v1v1v1v1v1v1v1v1v1v1v1v1v1v1v1v1v1v1v1v1v1v1v1v1v1v1v1v1v1v1v1v1v1v1v1v1v1v1v1v1h1v1v1v1v1v1v1v1v1v1v1v1v1v1v1v1v1v1h1v1v1v1v1v1v1v1v1v1v1v-1v-1v-1v-1l1 -1v-1v-1v-1v-1v-1v-1v-1v-1v-1v-1v-1v-1v-1v-1v-1v-1v-1v-1v-1v-1v-1v-1v-1v-1v-1v-1v-1v-1l1 -1v-1v-1v-1v-1v-1v-1v-1v-1v-1v-1v-1v-1v-1v-1h1v-1v-1v-1v-1v-1v-1v-1l1 -1v-1v-1v-1v-1h1v-1v-1v-1h1v-1v-1l1 -1v-1h1v-1h1v-1h1l1 -1h1h1l1 -1h1h1h1h1M1387 914v1v1v1v1v1v1v1v1v1v1v1v1v1v1v1v1v1v1v1v1v1v1v1v1v1v1v1v1v1v1v1v1v1v1v1v1v1v1v1v1l1 1v1v1v1v1v1v1v1v1v1v1v1v1v1v1v1v1v1v1h1v1v1v1v1v1v1v1v1v-1v-1v-1v-1v-1v-1v-1v-1v-1v-1v-1v-1v-1v-1v-1v-1v-1l1 -1v-1v-1v-1v-1v-1v-1v-1v-1v-1v-1v-1v-1v-1v-1v-1v-1v-1v-1v-1v-1v-1v-1v-1v-1h1v-1v-1v-1v-1v-1v-1v-1v-1v-1v-1v-1l1 -1v-1v-1v-1v-1v-1l1 -1v-1v-1v-1h1v-1v-1l1 -1v-1h1v-1h1v-1h1l1 -1h1h1v-1h1h1h1h1h1M1406 910v1v1v1v1v1v1v1v1v1v1v1v1v1v1v1v1v1v1v1v1v1v1v1v1v1v1v1v1v1v1v1v1v1v1v1v1v1v1v1v1l1 1v1v1v1v1v1v1v1v1v1v1v1v1v1v1v1v1h1v1v1v1v1v1v1v1v1v1v1v-1v-1v-1v-1v-1v-1v-1v-1v-1v-1l1 -1v-1v-1v-1v-1v-1v-1v-1v-1v-1v-1v-1v-1v-1v-1v-1v-1v-1v-1v-1v-1v-1v-1v-1v-1v-1v-1v-1v-1v-1v-1h1v-1v-1v-1v-1v-1v-1v-1v-1v-1v-1v-1v-1v-1h1v-1v-1v-1v-1v-1v-1h1v-1v-1v-1l1 -1v-1v-1h1v-1l1 -1v-1h1v-1h1l1 -1h1h1v-1h1h1h1h1h1M1425 905v1v1v1v1v1v1v1v1v1v1v1v1v1v1v1v1v1v1v1v1v1v1v1v1v1v1v1v1v1v1v1v1v1v1v1v1v1v1v1v1v1l1 1v1v1v1v1v1v1v1v1v1v1v1v1v1v1v1v1v1v1v1h1v1v1v1v1v1v1v-1v-1v-1v-1v-1v-1v-1v-1v-1v-1v-1v-1v-1v-1v-1v-1v-1v-1v-1v-1v-1v-1v-1v-1h1v-1v-1v-1v-1v-1v-1v-1v-1v-1v-1v-1v-1v-1v-1v-1v-1v-1v-1v-1v-1v-1v-1v-1h1v-1v-1v-1v-1v-1v-1v-1v-1v-1v-1h1v-1v-1v-1v-1l1 -1v-1v-1h1v-1v-1h1v-1v-1h1v-1h1l1 -1h1v-1h1h1l1 -1h1h1h1M1443 900v1v1v1v1v1v1v1v1v1v1v1v1v1v1v1v1v1v1v1v1v1v1v1v1v1v1v1v1v1v1v1v1v1v1v1v1v1v1v1v1v1v1l1 1v1v1v1v1v1v1v1v1v1v1v1v1v1v1v1v1v1v1v1v1l1 1v1v1v1v1v1v-1v-1v-1v-1v-1v-1v-1v-1v-1v-1v-1v-1v-1v-1v-1v-1v-1v-1v-1v-1v-1v-1v-1v-1v-1v-1v-1v-1v-1v-1h1v-1v-1v-1v-1v-1v-1v-1v-1v-1v-1v-1v-1v-1v-1v-1v-1v-1v-1v-1v-1v-1l1 -1v-1v-1v-1v-1v-1v-1v-1l1 -1v-1v-1v-1v-1h1v-1v-1h1v-1v-1h1v-1l1 -1l1 -1h1v-1h1l1 -1h1h1v-1h1M1459 895v1v1v1v1v1v1v1v1v1v1v1v1v1v1v1v1v1v1v1v1v1v1v1v1v1v1v1v1v1v1v1v1v1v1v1v1v1v1v1v1v1v1v1h1v1v1v1v1v1v1v1v1v1v1v1v1v1v1v1v1v1v1v1v1h1v1v1v1v1v1v1v1v-1v-1v-1v-1v-1v-1v-1v-1v-1v-1v-1v-1v-1v-1v-1v-1v-1v-1v-1v-1v-1v-1v-1v-1v-1v-1v-1v-1v-1h1v-1v-1v-1v-1v-1v-1v-1v-1v-1v-1v-1v-1v-1v-1v-1v-1v-1v-1v-1v-1v-1v-1v-1h1v-1v-1v-1v-1v-1v-1v-1v-1h1v-1v-1v-1v-1h1v-1v-1l1 -1v-1l1 -1v-1h1v-1h1l1 -1h1v-1h1h1v-1h1h1h1M1476 891v1v1v1v1v1v1v1v1v1v1v1v1v1v1v1v1v1v1v1v1v1v1v1v1v1v1v1v1v1v1v1v1v1v1v1v1v1v1v1v1v1v1v1l1 1v1v1v1v1v1v1v1v1v1v1v1v1v1v1v1v1v1v1v1v1v1v1v1v1v1v-1v-1v-1v-1v-1v-1v-1v-1l1 -1v-1v-1v-1v-1v-1v-1v-1v-1v-1v-1v-1v-1v-1v-1v-1v-1v-1v-1v-1v-1v-1v-1v-1v-1v-1v-1v-1v-1v-1v-1v-1v-1v-1v-1v-1v-1v-1v-1v-1h1v-1v-1v-1v-1v-1v-1v-1v-1v-1v-1l1 -1v-1v-1v-1v-1h1v-1v-1l1 -1v-1l1 -1v-1h1v-1h1v-1h1v-1h1l1 -1h1l1 -1h1M1491 886v1v1v1v1v1v1v1v1v1v1v1v1v1v1v1v1v1v1v1v1v1v1v1v1v1v1v1v1v1v1v1v1v1v1v1v1v1v1v1v1v1v1v1h1v1v1v1v1v1v1v1v1v1v1v1v1v1v1v1v1v1v1v1v1v1v1v1h1v1v1v1v1v-1v-1v-1v-1v-1v-1v-1v-1v-1v-1v-1v-1v-1v-1v-1v-1v-1v-1v-1v-1v-1v-1v-1v-1v-1v-1v-1v-1v-1v-1v-1v-1v-1v-1v-1v-1v-1v-1v-1v-1h1v-1v-1v-1v-1v-1v-1v-1v-1v-1v-1v-1v-1v-1v-1v-1v-1v-1h1v-1v-1v-1v-1v-1v-1h1v-1v-1v-1h1v-1v-1h1v-1l1 -1v-1h1v-1h1v-1h1l1 -1h1v-1h1h1M1506 881v1v1v1v1v1v1v1v1v1v1v1v1v1v1v1v1v1v1v1v1v1v1v1v1v1v1v1v1v1v1v1v1v1v1v1v1v1v1v1v1v1v1v1v1h1v1v1v1v1v1v1v1v1v1v1v1v1v1v1v1v1v1v1v1v1v1v1v1v1v1h1v1v-1v-1v-1v-1v-1v-1v-1v-1v-1v-1v-1v-1v-1v-1v-1v-1v-1v-1v-1v-1v-1v-1v-1v-1v-1v-1v-1v-1v-1v-1v-1v-1v-1v-1v-1v-1v-1v-1v-1v-1v-1v-1v-1v-1v-1v-1l1 -1v-1v-1v-1v-1v-1v-1v-1v-1v-1v-1v-1v-1h1v-1v-1v-1v-1l1 -1v-1v-1h1v-1v-1h1v-1l1 -1l1 -1l1 -1h1v-1h1l1 -1h1v-1h1M1521 876v1v1v1v1v1v1v1v1v1v1v1v1v1v1v1v1v1v1v1v1v1v1v1v1v1v1v1v1v1v1v1v1v1v1v1v1v1v1v1v1v1v1v1v1l1 1v1v1v1v1v1v1v1v1v1v1v1v1v1v1v1v1v1v1v1v1v1v1v1v1l1 1v1v-1v-1v-1v-1v-1v-1v-1v-1v-1v-1v-1v-1v-1v-1v-1v-1v-1v-1v-1v-1v-1v-1v-1v-1v-1v-1v-1v-1v-1v-1v-1v-1v-1v-1v-1v-1v-1v-1v-1v-1v-1v-1v-1v-1v-1v-1v-1v-1v-1h1v-1v-1v-1v-1v-1v-1v-1v-1v-1v-1v-1l1 -1v-1v-1v-1l1 -1v-1v-1l1 -1v-1l1 -1v-1h1v-1h1v-1l1 -1l1 -1l1 -1h1v-1h1M1535 870v1v1v1v1v1v1v1v1v1v1v1v1v1v1v1v1v1v1v1v1v1v1v1v1v1v1v1v1v1v1v1v1v1v1v1v1v1v1v1v1v1v1v1v1v1v1v1h1v1v1v1v1v1v1v1v1v1v1v1v1v1v1v1v1v1v1v1v1v1v1v1v1v1v1v-1v-1v-1v-1v-1v-1v-1v-1v-1v-1v-1v-1v-1v-1v-1v-1v-1v-1v-1v-1v-1v-1v-1v-1v-1v-1v-1v-1h1v-1v-1v-1v-1v-1v-1v-1v-1v-1v-1v-1v-1v-1v-1v-1v-1v-1v-1v-1v-1v-1v-1v-1v-1v-1v-1v-1v-1v-1l1 -1v-1v-1v-1v-1v-1v-1l1 -1v-1v-1l1 -1v-1v-1h1v-1l1 -1v-1h1v-1h1v-1h1v-1h1v-1h1l1 -1M1548 865v1v1v1v1v1v1v1v1v1v1v1v1v1v1v1v1v1v1v1v1v1v1v1v1v1v1v1v1v1v1v1v1v1v1v1v1v1v1v1v1v1v1v1v1v1l1 1v1v1v1v1v1v1v1v1v1v1v1v1v1v1v1v1v1v1v1v1v1v1v1v1v1l1 1v1v-1v-1v-1v-1v-1v-1v-1v-1v-1v-1v-1v-1v-1v-1v-1v-1v-1v-1v-1v-1v-1v-1v-1v-1v-1v-1v-1v-1v-1v-1v-1v-1v-1v-1v-1v-1v-1v-1v-1v-1v-1v-1v-1v-1v-1v-1v-1v-1v-1v-1v-1v-1l1 -1v-1v-1v-1v-1v-1v-1v-1v-1v-1v-1h1v-1v-1v-1l1 -1v-1v-1h1v-1v-1h1v-1l1 -1v-1h1v-1h1v-1h1v-1h1v-1h1M1561 860v1v1v1v1v1v1v1v1v1v1v1v1v1v1v1v1v1v1v1v1v1v1v1v1v1v1v1v1v1v1v1v1v1v1v1v1v1v1v1v1v1v1v1v1v1h1v1v1v1v1v1v1v1v1v1v1v1v1v1v1v1v1v1v1v1v1v1v1v1v1v1v1v1h1v-1v-1v-1v-1v-1v-1v-1v-1v-1v-1v-1v-1v-1v-1v-1v-1v-1v-1v-1v-1v-1v-1v-1v-1v-1v-1v-1v-1v-1v-1v-1v-1v-1v-1v-1v-1v-1v-1v-1v-1v-1v-1v-1v-1v-1v-1v-1v-1v-1v-1v-1v-1v-1v-1v-1v-1h1v-1v-1v-1v-1v-1v-1v-1v-1h1v-1v-1v-1h1v-1v-1l1 -1v-1l1 -1v-1h1v-1l1 -1l1 -1v-1h1v-1h1M1573 854v1v1v1v1v1v1v1v1v1v1v1v1v1v1v1v1v1v1v1v1v1v1v1v1v1v1v1v1v1v1v1v1v1v1v1v1v1v1v1v1v1v1v1v1v1h1v1v1v1v1v1v1v1v1v1v1v1v1v1v1v1v1v1v1v1v1v1v1v1v1v1l1 1v1v1v-1v-1v-1v-1v-1v-1v-1v-1v-1v-1v-1v-1v-1v-1v-1v-1v-1v-1v-1v-1v-1v-1v-1v-1v-1v-1v-1v-1v-1v-1v-1v-1v-1v-1v-1v-1v-1v-1v-1v-1v-1v-1v-1v-1v-1v-1v-1v-1v-1v-1v-1v-1v-1l1 -1v-1v-1v-1v-1v-1v-1v-1v-1v-1v-1l1 -1v-1v-1v-1h1v-1v-1l1 -1v-1l1 -1v-1h1v-1l1 -1v-1h1v-1h1v-1l1 -1M1585 847v1v1v1v1v1v1v1v1v1v1v1v1v1v1v1v1v1v1v1v1v1v1v1v1v1v1v1v1v1v1v1v1v1v1v1v1v1v1v1v1v1v1v1v1v1v1v1v1h1v1v1v1v1v1v1v1v1v1v1v1v1v1v1v1v1v1v1v1v1v1v1v1v1v1v1v1h1v-1v-1v-1v-1v-1v-1v-1v-1v-1v-1v-1v-1v-1v-1v-1v-1v-1v-1v-1v-1v-1v-1v-1v-1v-1v-1v-1v-1v-1v-1v-1v-1v-1v-1v-1v-1v-1v-1v-1v-1v-1v-1v-1v-1v-1v-1v-1v-1v-1v-1v-1v-1v-1v-1v-1v-1v-1v-1v-1l1 -1v-1v-1v-1v-1v-1v-1v-1h1v-1v-1v-1h1v-1v-1l1 -1v-1h1v-1l1 -1v-1h1v-1h1v-1h1v-1h1M1597 842v1v1v1v1v1v1v1v1v1v1v1v1v1v1v1v1v1v1v1v1v1v1v1v1v1v1v1v1v1v1v1v1v1v1v1v1v1v1v1v1v1v1v1v1v1v1v1h1v1v1v1v1v1v1v1v1v1v1v1v1v1v1v1v1v1v1v1v1v1v1v1v1v1v1v1v1v-1v-1v-1v-1v-1v-1v-1v-1v-1v-1v-1v-1v-1v-1l1 -1v-1v-1v-1v-1v-1v-1v-1v-1v-1v-1v-1v-1v-1v-1v-1v-1v-1v-1v-1v-1v-1v-1v-1v-1v-1v-1v-1v-1v-1v-1v-1v-1v-1v-1v-1v-1v-1v-1v-1v-1v-1v-1v-1v-1v-1v-1v-1h1v-1v-1v-1v-1v-1v-1v-1h1v-1v-1v-1h1v-1v-1h1v-1v-1h1v-1l1 -1v-1h1v-1h1v-1h1v-1M1608 835v1v1v1v1v1v1v1v1v1v1v1v1v1v1v1v1v1v1v1v1v1v1v1v1v1v1v1v1v1v1v1v1v1v1v1v1v1v1v1v1v1v1v1v1v1v1v1h1v1v1v1v1v1v1v1v1v1v1v1v1v1v1v1v1v1v1v1v1v1v1v1v1v1h1v1v1v1v1v-1v-1v-1v-1v-1v-1v-1v-1v-1v-1v-1v-1v-1v-1v-1v-1v-1v-1v-1v-1v-1v-1v-1v-1v-1v-1v-1v-1v-1v-1v-1v-1v-1v-1v-1v-1v-1v-1v-1v-1v-1v-1v-1v-1v-1v-1v-1v-1v-1v-1v-1v-1v-1v-1v-1l1 -1v-1v-1v-1v-1v-1v-1v-1v-1v-1v-1v-1v-1h1v-1v-1v-1l1 -1v-1v-1h1v-1v-1h1v-1l1 -1v-1h1v-1l1 -1v-1h1M1619 829v1v1v1v1v1v1v1v1v1v1v1v1v1v1v1v1v1v1v1v1v1v1v1v1v1v1v1v1v1v1v1v1v1v1v1v1v1v1v1v1v1v1v1v1v1v1v1v1h1v1v1v1v1v1v1v1v1v1v1v1v1v1v1v1v1v1v1v1v1v1v1v1v1v1v1v1v1h1v-1v-1v-1v-1v-1v-1v-1v-1v-1v-1v-1v-1v-1v-1v-1v-1v-1v-1v-1v-1v-1v-1v-1v-1v-1v-1v-1v-1v-1v-1v-1v-1v-1v-1v-1v-1v-1v-1v-1v-1v-1v-1v-1v-1v-1v-1v-1v-1v-1v-1v-1v-1v-1v-1v-1v-1v-1v-1v-1v-1v-1v-1v-1h1v-1v-1v-1v-1v-1v-1v-1l1 -1v-1v-1v-1h1v-1v-1h1v-1v-1h1v-1v-1h1v-1l1 -1l1 -1v-1M1629 821v1v1v1v1v1v1v1v1v1v1v1v1v1v1v1v1v1v1v1v1v1v1v1v1v1v1v1v1v1v1v1v1v1v1v1v1v1v1v1v1v1v1v1v1v1v1v1v1h1v1v1v1v1v1v1v1v1v1v1v1v1v1v1v1v1v1v1v1v1v1v1v1h1v1v1v1v1v1v1v1v1v-1v-1v-1v-1v-1v-1v-1v-1v-1v-1v-1v-1v-1v-1v-1v-1v-1v-1v-1v-1v-1v-1v-1v-1v-1v-1v-1v-1v-1v-1v-1v-1v-1v-1v-1v-1v-1v-1v-1v-1v-1v-1v-1v-1v-1v-1v-1v-1v-1v-1v-1v-1h1v-1v-1v-1v-1v-1v-1v-1v-1v-1v-1v-1v-1v-1v-1v-1v-1v-1v-1v-1h1v-1v-1v-1v-1h1v-1v-1v-1h1v-1v-1h1v-1v-1h1v-1h1v-1v-1h1v-1h1M1640 814v1v1v1v1v1v1v1v1v1v1v1v1v1v1v1v1v1v1v1v1v1v1v1v1v1v1v1v1v1v1v1v1v1v1v1v1v1v1v1v1v1v1v1v1v1v1v1v1v1h1v1v1v1v1v1v1v1v1v1v1v1v1v1v1v1v1v1v1v1v1v1v1v1v1v1v1v1v1v1l1 1v-1v-1v-1v-1v-1v-1v-1v-1v-1v-1v-1v-1v-1v-1v-1v-1v-1v-1v-1v-1v-1v-1v-1v-1v-1v-1v-1v-1v-1v-1v-1v-1v-1v-1v-1v-1v-1v-1v-1v-1v-1v-1v-1v-1v-1v-1v-1v-1v-1v-1v-1v-1v-1v-1v-1v-1v-1v-1v-1v-1v-1v-1v-1v-1v-1v-1v-1h1v-1v-1v-1v-1v-1v-1v-1l1 -1v-1v-1l1 -1v-1v-1h1v-1v-1h1v-1l1 -1v-1h1v-1l1 -1M1650 806v1v1v1v1v1v1v1v1v1v1v1v1v1v1v1v1v1v1v1v1v1v1v1v1v1v1v1v1v1v1v1v1v1v1v1v1v1v1v1v1v1v1v1v1v1v1v1v1v1l1 1v1v1v1v1v1v1v1v1v1v1v1v1v1v1v1v1v1v1v1v1v1v1v1v1v1v1v1v1v1h1v-1v-1v-1v-1v-1v-1v-1v-1v-1v-1v-1v-1v-1v-1v-1v-1v-1v-1v-1v-1v-1v-1v-1v-1v-1v-1v-1v-1v-1v-1v-1v-1v-1v-1v-1v-1v-1v-1v-1v-1v-1v-1v-1v-1v-1v-1v-1v-1v-1v-1v-1v-1v-1v-1v-1v-1v-1v-1v-1v-1v-1v-1v-1v-1v-1v-1v-1h1v-1v-1v-1v-1v-1v-1v-1v-1h1v-1v-1v-1l1 -1v-1v-1l1 -1v-1v-1h1v-1v-1l1 -1v-1l1 -1v-1M1659 795v1v1v1v1v1v1v1v1v1v1v1v1v1v1v1v1v1v1v1v1v1v1v1v1v1v1v1v1v1v1v1v1v1v1v1v1v1v1v1v1v1v1v1v1v1v1v1v1v1v1v1h1v1v1v1v1v1v1v1v1v1v1v1v1v1v1v1v1v1v1v1v1v1v1v1v1v1h1v1v1v1v1v1v1v-1v-1v-1v-1v-1v-1v-1v-1v-1v-1v-1v-1v-1v-1v-1v-1v-1v-1v-1v-1v-1v-1v-1v-1v-1v-1v-1v-1v-1v-1v-1v-1v-1v-1v-1v-1v-1v-1v-1v-1v-1v-1v-1v-1v-1v-1v-1v-1v-1v-1v-1v-1v-1v-1v-1v-1v-1v-1v-1h1v-1v-1v-1v-1v-1v-1v-1v-1v-1v-1v-1v-1v-1v-1v-1v-1l1 -1v-1v-1v-1v-1l1 -1v-1v-1l1 -1v-1v-1h1v-1v-1l1 -1v-1l1 -1v-1v-1h1M1669 784v1v1v1v1v1v1v1v1v1v1v1v1v1v1v1v1v1v1v1v1v1v1v1v1v1v1v1v1v1v1v1v1v1v1v1v1v1v1v1v1v1v1v1v1v1v1v1v1v1v1v1v1v1h1v1v1v1v1v1v1v1v1v1v1v1v1v1v1v1v1v1v1v1v1v1v1v1v1v1v1v1v1v1v1v1v-1v-1v-1v-1v-1v-1v-1v-1v-1v-1v-1v-1v-1v-1v-1v-1v-1v-1h1v-1v-1v-1v-1v-1v-1v-1v-1v-1v-1v-1v-1v-1v-1v-1v-1v-1v-1v-1v-1v-1v-1v-1v-1v-1v-1v-1v-1v-1v-1v-1v-1v-1v-1v-1v-1v-1v-1v-1v-1v-1v-1v-1v-1v-1v-1v-1v-1v-1v-1v-1v-1v-1v-1v-1h1v-1v-1v-1v-1v-1v-1v-1l1 -1v-1v-1v-1l1 -1v-1v-1l1 -1v-1v-1l1 -1v-1l1 -1v-1v-1h1v-1M1678 772v1v1v1v1v1v1v1v1v1v1v1v1v1v1v1v1v1v1v1v1v1v1v1v1v1v1v1v1v1v1v1v1v1v1v1v1v1v1v1v1v1v1v1v1v1v1v1v1v1v1v1v1v1l1 1v1v1v1v1v1v1v1v1v1v1v1v1v1v1v1v1v1v1v1v1v1v1v1v1v1v1v1v1v1h1v1v1v1v-1v-1v-1v-1v-1v-1v-1v-1v-1v-1v-1v-1v-1v-1v-1v-1v-1v-1v-1v-1v-1v-1v-1v-1v-1v-1v-1v-1v-1v-1v-1v-1v-1v-1v-1v-1v-1v-1v-1v-1v-1v-1v-1v-1v-1v-1v-1v-1v-1v-1v-1v-1v-1v-1v-1v-1v-1v-1v-1v-1v-1v-1v-1v-1v-1v-1v-1v-1v-1h1v-1v-1v-1v-1v-1v-1v-1v-1v-1v-1v-1v-1l1 -1v-1v-1v-1v-1l1 -1v-1v-1v-1h1v-1v-1v-1l1 -1v-1v-1h1v-1v-1l1 -1v-1M1687 758v1v1v1v1v1v1v1v1v1v1v1v1v1v1v1v1v1v1v1v1v1v1v1v1v1v1v1v1v1v1v1v1v1v1v1v1v1v1v1v1v1v1v1v1v1v1v1v1v1v1v1v1v1v1v1l1 1v1v1v1v1v1v1v1v1v1v1v1v1v1v1v1v1v1v1v1v1v1v1v1v1v1v1v1v1v1l1 1v1v1v1v-1v-1v-1v-1v-1v-1v-1v-1v-1v-1v-1v-1v-1v-1v-1v-1v-1v-1v-1v-1v-1v-1v-1v-1v-1v-1v-1v-1v-1v-1v-1v-1v-1v-1v-1v-1v-1v-1v-1v-1v-1v-1v-1v-1v-1v-1v-1v-1v-1v-1v-1v-1v-1v-1v-1v-1v-1v-1v-1v-1v-1v-1v-1v-1v-1v-1v-1v-1v-1v-1v-1v-1h1v-1v-1v-1v-1v-1v-1v-1v-1v-1v-1v-1v-1v-1h1v-1v-1v-1v-1v-1l1 -1v-1v-1v-1l1 -1v-1v-1v-1h1v-1v-1v-1l1 -1v-1v-1l1 -1M1696 742v1v1v1v1v1v1v1v1v1v1v1v1v1v1v1v1v1v1v1v1v1v1v1v1v1v1v1v1v1v1v1v1v1v1v1v1v1v1v1v1v1v1v1v1v1v1v1v1v1v1v1v1v1v1v1v1v1l1 1v1v1v1v1v1v1v1v1v1v1v1v1v1v1v1v1v1v1v1v1v1v1v1v1v1v1v1v1v1v1v1v1v1v-1v-1v-1v-1v-1v-1v-1v-1v-1v-1v-1l1 -1v-1v-1v-1v-1v-1v-1v-1v-1v-1v-1v-1v-1v-1v-1v-1v-1v-1v-1v-1v-1v-1v-1v-1v-1v-1v-1v-1v-1v-1v-1v-1v-1v-1v-1v-1v-1v-1v-1v-1v-1v-1v-1v-1v-1v-1v-1v-1v-1v-1v-1v-1v-1v-1v-1v-1v-1v-1v-1v-1h1v-1v-1v-1v-1v-1v-1v-1v-1v-1v-1v-1v-1v-1v-1v-1v-1v-1h1v-1v-1v-1v-1v-1v-1l1 -1v-1v-1v-1l1 -1v-1v-1v-1l1 -1v-1v-1v-1h1v-1v-1M1704 725v1v1v1v1v1v1v1v1v1v1v1v1v1v1v1v1v1v1v1v1v1v1v1v1v1v1v1v1v1v1v1v1v1v1v1v1v1v1v1v1v1v1v1v1v1v1v1v1v1v1v1v1v1v1v1l1 1v1v1v1v1v1v1v1v1v1v1v1v1v1v1v1v1v1v1v1v1v1v1v1v1v1v1v1v1v1h1v1v1v1v1v1v-1v-1v-1v-1v-1v-1v-1v-1v-1v-1v-1v-1v-1v-1v-1v-1v-1v-1v-1v-1v-1v-1v-1v-1v-1v-1v-1v-1v-1v-1v-1v-1v-1v-1v-1v-1v-1v-1v-1v-1v-1v-1v-1v-1v-1v-1v-1v-1v-1v-1v-1v-1v-1v-1v-1v-1v-1v-1v-1v-1v-1v-1v-1v-1v-1v-1v-1v-1v-1v-1v-1v-1v-1v-1v-1v-1v-1h1v-1v-1v-1v-1v-1v-1v-1v-1v-1v-1v-1v-1v-1v-1v-1v-1v-1v-1v-1v-1v-1v-1v-1v-1v-1v-1v-1v-1v-1v-1v-1v-1v-1v-1v-1h1v-1v-1v-1v-1v-1v-1v-1v-1v-1v-1v-1v-1v-1v-1h1v-1v-1v-1v-1v-1v-1v-1v-1v-1l1 -1v-1v-1v-1v-1v-1v-1v-1v-1l1 -1v-1v-1v-1v-1v-1v-1v-1v-1l1 -1v-1v-1v-1v-1v-1v-1v-1v-1l1 -1v-1v-1M1713 650v1v1v1v1v1v1v1v1v1v1v1v1v1v1v1v1v1v1v1v1v1v1v1v1v1v1v1v1v1v1v1v1v1v1v1v1v1v1v1v1v1v1v1v1v1v1v1v1v1v1v1v1v1v1v1v1v1v1v1v1v1v1v1v1v1v1v1v1v1v1v1v1v1v1v1v1v1v1v1v1v1v1v1v1v1v1v1v1v1h1v1v1v1v1v1v1v1v1v1v1v1v1v1v1v1v1v1v1v1v1v1v1v1v1v1v1v1v1v1v1v1v1v1v1v1v1v1v1v1v1v1v1v1v1v1v1v1v1v1v1v1v1h1v-1v-1v-1v-1v-1v-1v-1v-1v-1v-1v-1v-1v-1v-1v-1v-1v-1v-1v-1v-1v-1v-1v-1v-1v-1v-1v-1v-1v-1v-1v-1v-1v-1v-1v-1v-1v-1v-1v-1v-1v-1v-1v-1v-1v-1v-1v-1v-1v-1v-1v-1v-1v-1v-1v-1v-1v-1v-1v-1v-1v-1v-1v-1v-1v-1v-1v-1v-1v-1v-1v-1v-1v-1v-1v-1v-1v-1v-1v-1v-1v-1v-1v-1v-1v-1v-1v-1v-1v-1v-1v-1v-1v-1v-1v-1v-1v-1v-1v-1v-1v-1v-1v-1v-1v-1v-1v-1v-1v-1v-1v-1v-1v-1v-1v-1v-1v-1v-1v-1v-1v-1v-1v-1v-1v-1v-1v-1v-1l1 -1v-1v-1v-1v-1v-1v-1v-1v-1v-1v-1v-1v-1v-1v-1v-1v-1v-1v-1v-1v-1v-1v-1v-1v-1v-1v-1v-1v-1v-1v-1v-1v-1v-1v-1h1v-1v-1v-1v-1v-1v-1v-1v-1v-1v-1v-1v-1v-1v-1v-1v-1v-1l1 -1v-1v-1v-1v-1v-1v-1v-1v-1v-1v-1v-1v-1v-1h1v-1v-1v-1v-1v-1v-1v-1v-1v-1v-1v-1v-1v-1h1v-1v-1v-1v-1v-1v-1v-1v-1v-1v-1v-1v-1v-1h1v-1M1721 670v1v1v1v1v1v1v1v1v1v1v1v1v1v1v1v1v1l1 1v1v1v1v1v1v1v1v1v1v1v1v1v1v1v1v1v1v1v1v1v1v1v1v1v1v1v1v1v1v1v1v1v1v1v1v1v1v1v1v1v1v1v1v1v1v1v1v1v1v1v1v1v1v-1v-1v-1v-1v-1v-1v-1v-1v-1v-1v-1v-1v-1v-1v-1v-1v-1v-1v-1v-1v-1v-1v-1v-1v-1v-1v-1v-1v-1v-1v-1v-1v-1v-1v-1v-1v-1v-1v-1v-1v-1v-1v-1v-1v-1v-1v-1v-1v-1v-1v-1v-1v-1v-1v-1v-1v-1v-1v-1v-1v-1v-1v-1v-1v-1v-1v-1v-1v-1v-1v-1v-1v-1v-1v-1v-1v-1v-1v-1v-1v-1v-1v-1v-1v-1v-1v-1v-1v-1v-1v-1v-1v-1v-1v-1v-1v-1v-1v-1v-1v-1v-1v-1v-1v-1v-1v-1v-1v-1v-1v-1v-1v-1v-1v-1v-1v-1v-1v-1v-1v-1v-1v-1v-1v-1v-1v-1v-1v-1v-1v-1v-1v-1v-1v-1v-1h1v-1v-1v-1v-1v-1v-1v-1v-1v-1v-1v-1v-1v-1v-1v-1v-1v-1h1v-1v-1v-1v-1v-1v-1v-1v-1v-1v-1v-1v-1v-1v-1h1v-1v-1v-1v-1v-1v-1v-1v-1v-1v-1v-1v-1v-1v-1v-1v-1l1 -1v-1v-1v-1v-1v-1v-1v-1v-1v-1v-1v-1v-1v-1v-1v-1v-1v-1v-1v-1h1v-1v-1v-1v-1v-1v-1v-1v-1v-1v-1v-1v-1v-1v-1v-1v-1v-1v-1v-1v-1v-1v-1v-1h1v-1v-1v-1v-1v-1v-1v-1v-1v-1v-1v-1v-1v-1v-1v-1v-1v-1v-1v-1l1 -1v-1v-1v-1v-1v-1v-1v-1v-1v-1v-1v-1v-1v-1v-1v-1v-1v-1v-1v-1l1 -1v-1v-1v-1v-1v-1v-1v-1v-1v-1v-1v-1v-1v-1v-1v-1v-1v-1v-1v-1v-1v-1v-1v-1v-1v-1" stroke-width="5.05"/>
<path d="M1248 936h0M1248 934h0M1248 929h0M1248 924h0M1248 922h0M1248 917h0M1248 912h0M1248 910h0M1248 905h0M1248 900h0M1248 895h0M1248 893h0M1248 888h0M1248 883h0M1248 881h0M1248 876h0M1248 871h0M1248 869h0M1248 870h0M1248 875h0M1248 877h0M1248 882h0M1248 887h0M1248 889h0M1248 894h0M1248 899h0M1248 901h0M1248 906h0M1248 911h0M1248 916h0M1248 918h0M1248 923h0M1248 928h0M1248 930h0M1248 935h0M1274 934h0M1274 932h0M1274 930h0M1274 928h0M1274 925h0M1274 923h0M1274 921h0M1274 919h0M1274 916h0M1274 914h0M1274 912h0M1274 910h0M1274 908h0M1274 905h0M1274 903h0M1274 901h0M1274 899h0M1274 896h0M1274 894h0M1274 892h0M1274 890h0M1274 888h0M1274 885h0M1274 883h0M1274 881h0M1274 879h0M1274 876h0M1274 874h0M1274 872h0M1274 870h0M1274 868h0M1274 865h0M1274 863h0M1274 861h0M1274 859h0M1274 856h0M1274 858h0M1274 860h0M1274 862h0M1274 864h0M1274 866h0M1274 869h0M1274 871h0M1274 873h0M1274 875h0M1274 878h0M1274 880h0M1274 882h0M1274 884h0M1274 886h0M1274 889h0M1274 891h0M1274 893h0M1274 895h0M1274 898h0M1274 900h0M1274 902h0M1274 904h0M1274 906h0M1274 909h0M1274 911h0M1274 913h0M1274 915h0M1274 918h0M1274 920h0M1274 922h0M1274 924h0M1274 926h0M1274 929h0M1274 931h0M1274 933h0M1299 929h0M1299 926h0M1299 924h0M1299 921h0M1299 918h0M1299 916h0M1299 913h0M1299 910h0M1299 908h0M1299 905h0M1299 902h0M1299 900h0M1299 897h0M1299 894h0M1299 892h0M1299 889h0M1299 886h0M1299 884h0M1299 881h0M1299 878h0M1299 876h0M1299 873h0M1299 870h0M1299 868h0M1299 865h0M1299 862h0M1299 860h0M1299 857h0M1299 854h0M1299 852h0M1299 853h0M1299 856h0M1299 858h0M1299 861h0M1299 864h0M1299 866h0M1299 869h0M1299 872h0M1299 874h0M1299 877h0M1299 880h0M1299 882h0M1299 885h0M1299 888h0M1299 890h0M1299 893h0M1299 896h0M1299 898h0M1299 901h0M1299 904h0M1299 906h0M1299 909h0M1299 912h0M1299 914h0M1299 917h0M1299 920h0M1299 922h0M1299 925h0M1299 928h0M1323 923h0M1323 920h0M1323 917h0M1323 914h0M1323 911h0M1323 908h0M1323 904h0M1323 901h0M1323 898h0M1323 895h0M1323 892h0M1323 889h0M1323 885h0M1323 882h0M1323 879h0M1323 876h0M1323 873h0M1323 870h0M1323 867h0M1323 863h0M1323 860h0M1323 857h0M1323 854h0M1323 851h0M1323 848h0M1323 845h0M1323 841h0M1323 843h0M1323 846h0M1323 849h0M1323 852h0M1323 856h0M1323 859h0M1323 862h0M1323 865h0M1323 868h0M1323 871h0M1323 874h0M1323 878h0M1323 881h0M1323 884h0M1323 887h0M1323 890h0M1323 893h0M1323 896h0M1323 900h0M1323 903h0M1323 906h0M1323 909h0M1323 912h0M1323 915h0M1323 919h0M1323 922h0M1345 918h0M1345 914h0M1345 911h0M1345 907h0M1345 903h0M1345 900h0M1345 896h0M1345 892h0M1345 889h0M1345 885h0M1345 881h0M1345 878h0M1345 874h0M1345 871h0M1345 867h0M1345 863h0M1345 860h0M1345 856h0M1345 852h0M1345 849h0M1345 845h0M1345 841h0M1345 838h0M1345 834h0M1345 836h0M1345 839h0M1345 843h0M1345 847h0M1345 850h0M1345 854h0M1345 858h0M1345 861h0M1345 865h0M1345 869h0M1345 872h0M1345 876h0M1345 880h0M1345 883h0M1345 887h0M1345 891h0M1345 894h0M1345 898h0M1345 902h0M1345 905h0M1345 909h0M1345 912h0M1345 916h0M1367 913h0M1367 908h0M1367 904h0M1367 900h0M1367 896h0M1367 891h0M1367 887h0M1367 883h0M1367 878h0M1367 874h0M1367 870h0M1367 866h0M1367 861h0M1367 857h0M1367 853h0M1367 848h0M1367 844h0M1367 840h0M1367 836h0M1367 831h0M1367 827h0M1367 829h0M1367 833h0M1367 838h0M1367 842h0M1367 846h0M1367 851h0M1367 855h0M1367 859h0M1367 863h0M1367 868h0M1367 872h0M1367 876h0M1367 881h0M1367 885h0M1367 889h0M1367 893h0M1367 898h0M1367 902h0M1367 906h0M1367 911h0M1387 909h0M1387 904h0M1387 900h0M1387 895h0M1387 890h0M1387 885h0M1387 881h0M1387 876h0M1387 871h0M1387 867h0M1387 862h0M1387 857h0M1387 852h0M1387 848h0M1387 843h0M1387 838h0M1387 834h0M1387 829h0M1387 824h0M1387 819h0M1387 822h0M1387 826h0M1387 831h0M1387 836h0M1387 841h0M1387 845h0M1387 850h0M1387 855h0M1387 860h0M1387 864h0M1387 869h0M1387 874h0M1387 878h0M1387 883h0M1387 888h0M1387 893h0M1387 897h0M1387 902h0M1387 907h0M1406 905h0M1406 899h0M1406 894h0M1406 889h0M1406 884h0M1406 879h0M1406 874h0M1406 868h0M1406 863h0M1406 858h0M1406 853h0M1406 848h0M1406 843h0M1406 838h0M1406 832h0M1406 827h0M1406 822h0M1406 817h0M1406 812h0M1406 814h0M1406 819h0M1406 825h0M1406 830h0M1406 835h0M1406 840h0M1406 845h0M1406 850h0M1406 856h0M1406 861h0M1406 866h0M1406 871h0M1406 876h0M1406 881h0M1406 887h0M1406 892h0M1406 897h0M1406 902h0M1425 899h0M1425 893h0M1425 887h0M1425 881h0M1425 875h0M1425 869h0M1425 863h0M1425 857h0M1425 851h0M1425 845h0M1425 839h0M1425 834h0M1425 828h0M1425 822h0M1425 816h0M1425 810h0M1425 804h0M1425 807h0M1425 813h0M1425 819h0M1425 825h0M1425 831h0M1425 837h0M1425 842h0M1425 848h0M1425 854h0M1425 860h0M1425 866h0M1425 872h0M1425 878h0M1425 884h0M1425 890h0M1425 896h0M1443 893h0M1443 887h0M1443 881h0M1443 874h0M1443 868h0M1443 861h0M1443 855h0M1443 848h0M1443 842h0M1443 836h0M1443 829h0M1443 823h0M1443 816h0M1443 810h0M1443 803h0M1443 797h0M1443 800h0M1443 807h0M1443 813h0M1443 819h0M1443 826h0M1443 832h0M1443 839h0M1443 845h0M1443 852h0M1443 858h0M1443 864h0M1443 871h0M1443 877h0M1443 884h0M1443 890h0M1459 888h0M1459 881h0M1459 874h0M1459 867h0M1459 860h0M1459 853h0M1459 846h0M1459 839h0M1459 831h0M1459 824h0M1459 817h0M1459 810h0M1459 803h0M1459 796h0M1459 789h0M1459 793h0M1459 800h0M1459 807h0M1459 814h0M1459 821h0M1459 828h0M1459 835h0M1459 842h0M1459 849h0M1459 856h0M1459 863h0M1459 870h0M1459 878h0M1459 885h0M1476 883h0M1476 876h0M1476 869h0M1476 861h0M1476 854h0M1476 847h0M1476 839h0M1476 832h0M1476 825h0M1476 818h0M1476 810h0M1476 803h0M1476 796h0M1476 788h0M1476 781h0M1476 785h0M1476 792h0M1476 799h0M1476 807h0M1476 814h0M1476 821h0M1476 828h0M1476 836h0M1476 843h0M1476 850h0M1476 858h0M1476 865h0M1476 872h0M1476 880h0M1491 878h0M1491 871h0M1491 863h0M1491 856h0M1491 848h0M1491 841h0M1491 833h0M1491 826h0M1491 818h0M1491 811h0M1491 803h0M1491 796h0M1491 788h0M1491 781h0M1491 773h0M1491 777h0M1491 784h0M1491 792h0M1491 799h0M1491 807h0M1491 814h0M1491 822h0M1491 829h0M1491 837h0M1491 844h0M1491 852h0M1491 859h0M1491 867h0M1491 875h0M1506 872h0M1506 864h0M1506 856h0M1506 848h0M1506 839h0M1506 831h0M1506 823h0M1506 815h0M1506 806h0M1506 798h0M1506 790h0M1506 782h0M1506 773h0M1506 765h0M1506 769h0M1506 777h0M1506 786h0M1506 794h0M1506 802h0M1506 810h0M1506 819h0M1506 827h0M1506 835h0M1506 843h0M1506 852h0M1506 860h0M1506 868h0M1521 868h0M1521 859h0M1521 851h0M1521 842h0M1521 834h0M1521 825h0M1521 817h0M1521 808h0M1521 800h0M1521 791h0M1521 783h0M1521 774h0M1521 766h0M1521 757h0M1521 762h0M1521 770h0M1521 779h0M1521 787h0M1521 796h0M1521 804h0M1521 812h0M1521 821h0M1521 829h0M1521 838h0M1521 846h0M1521 855h0M1521 863h0M1535 861h0M1535 853h0M1535 844h0M1535 835h0M1535 827h0M1535 818h0M1535 809h0M1535 801h0M1535 792h0M1535 783h0M1535 775h0M1535 766h0M1535 757h0M1535 749h0M1535 753h0M1535 762h0M1535 770h0M1535 779h0M1535 788h0M1535 796h0M1535 805h0M1535 814h0M1535 822h0M1535 831h0M1535 840h0M1535 848h0M1535 857h0M1548 856h0M1548 847h0M1548 838h0M1548 829h0M1548 820h0M1548 811h0M1548 802h0M1548 793h0M1548 784h0M1548 775h0M1548 766h0M1548 757h0M1548 748h0M1548 739h0M1548 744h0M1548 753h0M1548 762h0M1548 771h0M1548 780h0M1548 789h0M1548 798h0M1548 807h0M1548 816h0M1548 825h0M1548 834h0M1548 843h0M1548 852h0M1561 850h0M1561 841h0M1561 832h0M1561 823h0M1561 813h0M1561 804h0M1561 795h0M1561 786h0M1561 776h0M1561 767h0M1561 758h0M1561 749h0M1561 739h0M1561 730h0M1561 735h0M1561 744h0M1561 753h0M1561 762h0M1561 772h0M1561 781h0M1561 790h0M1561 799h0M1561 809h0M1561 818h0M1561 827h0M1561 837h0M1561 846h0M1573 845h0M1573 836h0M1573 827h0M1573 818h0M1573 809h0M1573 800h0M1573 791h0M1573 782h0M1573 773h0M1573 764h0M1573 755h0M1573 746h0M1573 737h0M1573 728h0M1573 720h0M1573 724h0M1573 733h0M1573 742h0M1573 751h0M1573 760h0M1573 769h0M1573 778h0M1573 787h0M1573 796h0M1573 805h0M1573 814h0M1573 822h0M1573 831h0M1573 840h0M1585 838h0M1585 828h0M1585 818h0M1585 808h0M1585 798h0M1585 789h0M1585 779h0M1585 769h0M1585 759h0M1585 749h0M1585 739h0M1585 730h0M1585 720h0M1585 710h0M1585 715h0M1585 725h0M1585 735h0M1585 744h0M1585 754h0M1585 764h0M1585 774h0M1585 784h0M1585 793h0M1585 803h0M1585 813h0M1585 823h0M1585 833h0M1597 832h0M1597 823h0M1597 813h0M1597 804h0M1597 794h0M1597 785h0M1597 775h0M1597 766h0M1597 756h0M1597 747h0M1597 737h0M1597 728h0M1597 718h0M1597 709h0M1597 700h0M1597 704h0M1597 714h0M1597 723h0M1597 733h0M1597 742h0M1597 752h0M1597 761h0M1597 771h0M1597 780h0M1597 789h0M1597 799h0M1597 808h0M1597 818h0M1597 827h0M1608 825h0M1608 816h0M1608 806h0M1608 796h0M1608 786h0M1608 776h0M1608 767h0M1608 757h0M1608 747h0M1608 737h0M1608 727h0M1608 717h0M1608 708h0M1608 698h0M1608 688h0M1608 693h0M1608 703h0M1608 713h0M1608 722h0M1608 732h0M1608 742h0M1608 752h0M1608 762h0M1608 771h0M1608 781h0M1608 791h0M1608 801h0M1608 811h0M1608 820h0M1619 819h0M1619 810h0M1619 800h0M1619 790h0M1619 781h0M1619 771h0M1619 762h0M1619 752h0M1619 743h0M1619 733h0M1619 723h0M1619 714h0M1619 704h0M1619 695h0M1619 685h0M1619 676h0M1619 680h0M1619 690h0M1619 699h0M1619 709h0M1619 719h0M1619 728h0M1619 738h0M1619 747h0M1619 757h0M1619 767h0M1619 776h0M1619 786h0M1619 795h0M1619 805h0M1619 814h0M1629 811h0M1629 801h0M1629 791h0M1629 782h0M1629 772h0M1629 762h0M1629 752h0M1629 742h0M1629 732h0M1629 722h0M1629 712h0M1629 702h0M1629 692h0M1629 682h0M1629 672h0M1629 663h0M1629 667h0M1629 677h0M1629 687h0M1629 697h0M1629 707h0M1629 717h0M1629 727h0M1629 737h0M1629 747h0M1629 757h0M1629 767h0M1629 777h0M1629 786h0M1629 796h0M1629 806h0M1640 804h0M1640 794h0M1640 784h0M1640 774h0M1640 765h0M1640 755h0M1640 745h0M1640 735h0M1640 725h0M1640 716h0M1640 706h0M1640 696h0M1640 686h0M1640 676h0M1640 667h0M1640 657h0M1640 647h0M1640 652h0M1640 662h0M1640 672h0M1640 681h0M1640 691h0M1640 701h0M1640 711h0M1640 721h0M1640 730h0M1640 740h0M1640 750h0M1640 760h0M1640 770h0M1640 779h0M1640 789h0M1640 799h0M1650 796h0M1650 785h0M1650 775h0M1650 765h0M1650 754h0M1650 744h0M1650 734h0M1650 723h0M1650 713h0M1650 702h0M1650 692h0M1650 682h0M1650 671h0M1650 661h0M1650 651h0M1650 640h0M1650 630h0M1650 635h0M1650 646h0M1650 656h0M1650 666h0M1650 677h0M1650 687h0M1650 697h0M1650 708h0M1650 718h0M1650 728h0M1650 739h0M1650 749h0M1650 759h0M1650 770h0M1650 780h0M1650 790h0M1659 785h0M1659 774h0M1659 764h0M1659 753h0M1659 743h0M1659 733h0M1659 722h0M1659 712h0M1659 701h0M1659 691h0M1659 680h0M1659 670h0M1659 660h0M1659 649h0M1659 639h0M1659 628h0M1659 618h0M1659 608h0M1659 613h0M1659 623h0M1659 634h0M1659 644h0M1659 654h0M1659 665h0M1659 675h0M1659 686h0M1659 696h0M1659 706h0M1659 717h0M1659 727h0M1659 738h0M1659 748h0M1659 759h0M1659 769h0M1659 779h0M1669 773h0M1669 763h0M1669 752h0M1669 742h0M1669 731h0M1669 721h0M1669 710h0M1669 699h0M1669 689h0M1669 678h0M1669 668h0M1669 657h0M1669 646h0M1669 636h0M1669 625h0M1669 615h0M1669 604h0M1669 594h0M1669 583h0M1669 588h0M1669 599h0M1669 609h0M1669 620h0M1669 631h0M1669 641h0M1669 652h0M1669 662h0M1669 673h0M1669 684h0M1669 694h0M1669 705h0M1669 715h0M1669 726h0M1669 736h0M1669 747h0M1669 758h0M1669 768h0M1678 762h0M1678 751h0M1678 741h0M1678 731h0M1678 721h0M1678 710h0M1678 700h0M1678 690h0M1678 679h0M1678 669h0M1678 659h0M1678 649h0M1678 638h0M1678 628h0M1678 618h0M1678 607h0M1678 597h0M1678 587h0M1678 577h0M1678 566h0M1678 556h0M1678 561h0M1678 571h0M1678 582h0M1678 592h0M1678 602h0M1678 613h0M1678 623h0M1678 633h0M1678 643h0M1678 654h0M1678 664h0M1678 674h0M1678 685h0M1678 695h0M1678 705h0M1678 715h0M1678 726h0M1678 736h0M1678 746h0M1678 757h0M1687 747h0M1687 735h0M1687 724h0M1687 713h0M1687 701h0M1687 690h0M1687 679h0M1687 667h0M1687 656h0M1687 645h0M1687 633h0M1687 622h0M1687 611h0M1687 599h0M1687 588h0M1687 577h0M1687 565h0M1687 554h0M1687 543h0M1687 531h0M1687 520h0M1687 526h0M1687 537h0M1687 548h0M1687 560h0M1687 571h0M1687 582h0M1687 594h0M1687 605h0M1687 616h0M1687 628h0M1687 639h0M1687 650h0M1687 662h0M1687 673h0M1687 684h0M1687 696h0M1687 707h0M1687 718h0M1687 730h0M1687 741h0M1696 730h0M1696 718h0M1696 706h0M1696 694h0M1696 681h0M1696 669h0M1696 657h0M1696 645h0M1696 633h0M1696 621h0M1696 609h0M1696 597h0M1696 584h0M1696 572h0M1696 560h0M1696 548h0M1696 536h0M1696 524h0M1696 512h0M1696 500h0M1696 487h0M1696 475h0M1696 481h0M1696 493h0M1696 506h0M1696 518h0M1696 530h0M1696 542h0M1696 554h0M1696 566h0M1696 578h0M1696 590h0M1696 603h0M1696 615h0M1696 627h0M1696 639h0M1696 651h0M1696 663h0M1696 675h0M1696 687h0M1696 700h0M1696 712h0M1696 724h0M1704 709h0M1704 692h0M1704 676h0M1704 660h0M1704 643h0M1704 627h0M1704 611h0M1704 594h0M1704 578h0M1704 561h0M1704 545h0M1704 529h0M1704 512h0M1704 496h0M1704 480h0M1704 463h0M1704 447h0M1704 431h0M1704 414h0M1704 422h0M1704 439h0M1704 455h0M1704 472h0M1704 488h0M1704 504h0M1704 521h0M1704 537h0M1704 553h0M1704 570h0M1704 586h0M1704 602h0M1704 619h0M1704 635h0M1704 651h0M1704 668h0M1704 684h0M1704 700h0M1713 630h0M1713 610h0M1713 589h0M1713 569h0M1713 549h0M1713 529h0M1713 508h0M1713 488h0M1713 468h0M1713 448h0M1713 427h0M1713 407h0M1713 387h0M1713 367h0M1713 347h0M1713 326h0M1713 336h0M1713 357h0M1713 377h0M1713 397h0M1713 417h0M1713 438h0M1713 458h0M1713 478h0M1713 498h0M1713 518h0M1713 539h0M1713 559h0M1713 579h0M1713 599h0M1713 620h0M1721 555h0M1721 530h0M1721 500h0M1721 470h0M1721 440h0M1721 410h0M1721 379h0M1721 349h0M1721 331h0M1721 312h0M1721 276h0M1721 247h0M1721 236h0M1721 214h0M1721 208h0M1721 199h0M1721 193h0M1721 236h0M1721 243h0M1721 258h0M1721 295h0M1721 322h0M1721 345h0M1721 363h0M1721 392h0M1721 425h0M1721 455h0M1721 485h0M1721 515h0M1721 545h0M1721 580h0M1721 615h0M1721 650h0M1721 685h0M1721 715h0M1730 440h0M1730 431h0M1730 422h0M1730 413h0M1730 404h0M1730 395h0M1730 386h0M1730 377h0M1730 368h0M1730 359h0M1730 350h0M1730 341h0M1730 332h0M1730 323h0M1730 314h0M1730 305h0M1730 296h0M1730 287h0M1730 278h0M1730 269h0M1730 260h0M1730 251h0M1730 242h0M1730 233h0M1730 224h0M1730 215h0M1730 206h0M1730 203h0M1730 210h0M1730 218h0M1730 226h0M1730 234h0M1730 242h0M1730 254h0M1730 259h0M1730 265h0M1730 269h0M1730 277h0M1730 284h0M1730 291h0M1730 297h0M1730 301h0M1730 304h0M1730 312h0M1730 321h0M1730 338h0M1730 349h0M1730 363h0M1730 380h0M1730 400h0M1730 425h0M1730 449h0M1730 472h0M1730 486h0M1730 492h0M1730 503h0M1730 517h0M1730 522h0M1730 528h0M1730 539h0M1730 550h0M1730 562h0M1730 573h0M1730 584h0M1730 595h0M1730 607h0M1730 618h0M1730 629h0M1730 641h0M1730 652h0M1730 663h0M1730 675h0M1730 686h0" stroke-width="4.5"/>
</g>
<path d="M1732.5 203.5V312" fill="none" stroke="#000" stroke-width="1.1" stroke-linecap="round"/>
<line x1="1561" y1="144" x2="1561" y2="1068" stroke="#00f" stroke-width="4.167"/>
<line x1="1730" y1="144" x2="1730" y2="1068" stroke="#00f" stroke-width="4.167"/>
<line x1="250" y1="733" x2="1800" y2="733" stroke="#008000" stroke-width="4.167"/>
<line x1="250" y1="537.5" x2="1800" y2="537.5" stroke="#ffa500" stroke-width="2.083"/>
<line x1="250" y1="654" x2="1800" y2="654" stroke="#ffa500" stroke-width="2.083"/>
<g fill="#90ee90" stroke="#90ee90" stroke-width="1.389">
<circle cx="1679.5" cy="557.5" r="4.167"/>
<circle cx="1679.5" cy="564.5" r="4.167"/>
<circle cx="1679.5" cy="576.5" r="4.167"/>
<circle cx="1679.5" cy="589.5" r="4.167"/>
<circle cx="1679.5" cy="600.5" r="4.167"/>
<circle cx="1679.5" cy="606.5" r="4.167"/>
<circle cx="1679.5" cy="615.5" r="4.167"/>
<circle cx="1679.5" cy="623.5" r="4.167"/>
<circle cx="1679.5" cy="631.5" r="4.167"/>
<circle cx="1679.5" cy="638.5" r="4.167"/>
<circle cx="1679.5" cy="645.5" r="4.167"/>
<circle cx="1679.5" cy="653.5" r="4.167"/>
<circle cx="1679.5" cy="660.5" r="4.167"/>
<circle cx="1679.5" cy="669.5" r="4.167"/>
<circle cx="1679.5" cy="680.5" r="4.167"/>
<circle cx="1679.5" cy="688.5" r="4.167"/>
<circle cx="1679.5" cy="700.5" r="4.167"/>
<circle cx="1679.5" cy="712.5" r="4.167"/>
<circle cx="1679.5" cy="725.5" r="4.167"/>
<circle cx="1679.5" cy="736.5" r="4.167"/>
<circle cx="1679.5" cy="749.5" r="4.167"/>
<circle cx="1679.5" cy="760.5" r="4.167"/>
<circle cx="1679.5" cy="772.5" r="4.167"/>
<circle cx="1679.5" cy="784.5" r="4.167"/>
<circle cx="1679.5" cy="796.5" r="4.167"/>
<circle cx="1679.5" cy="806.5" r="4.167"/>
<circle cx="1679.5" cy="817.5" r="4.167"/>
<circle cx="1679.5" cy="828.5" r="4.167"/>
<circle cx="1679.5" cy="837.5" r="4.167"/>
<circle cx="1679.5" cy="846.5" r="4.167"/>
</g>
<g fill="#ff0" fill-opacity=".2" stroke="#ff0" stroke-opacity=".2" stroke-width="1.389">
<circle cx="1561.5" cy="730.5" r="6.944"/>
<circle cx="1573.5" cy="728.5" r="6.944"/>
<circle cx="1573.5" cy="733.5" r="6.944"/>
<circle cx="1585.5" cy="730.5" r="6.944"/>
<circle cx="1585.5" cy="720.5" r="6.944"/>
<circle cx="1585.5" cy="725.5" r="6.944"/>
<circle cx="1597.5" cy="728.5" r="6.944"/>
<circle cx="1597.5" cy="718.5" r="6.944"/>
<circle cx="1597.5" cy="709.5" r="6.944"/>
<circle cx="1597.5" cy="714.5" r="6.944"/>
<circle cx="1597.5" cy="723.5" r="6.944"/>
<circle cx="1597.5" cy="733.5" r="6.944"/>
<circle cx="1608.5" cy="727.5" r="6.944"/>
<circle cx="1608.5" cy="717.5" r="6.944"/>
<circle cx="1608.5" cy="708.5" r="6.944"/>
<circle cx="1608.5" cy="703.5" r="6.944"/>
<circle cx="1608.5" cy="713.5" r="6.944"/>
<circle cx="1608.5" cy="722.5" r="6.944"/>
<circle cx="1608.5" cy="732.5" r="6.944"/>
<circle cx="1619.5" cy="733.5" r="6.944"/>
<circle cx="1619.5" cy="723.5" r="6.944"/>
<circle cx="1619.5" cy="714.5" r="6.944"/>
<circle cx="1619.5" cy="704.5" r="6.944"/>
<circle cx="1619.5" cy="695.5" r="6.944"/>
<circle cx="1619.5" cy="699.5" r="6.944"/>
<circle cx="1619.5" cy="709.5" r="6.944"/>
<circle cx="1619.5" cy="719.5" r="6.944"/>
<circle cx="1619.5" cy="728.5" r="6.944"/>
<circle cx="1629.5" cy="732.5" r="6.944"/>
<circle cx="1629.5" cy="722.5" r="6.944"/>
<circle cx="1629.5" cy="712.5" r="6.944"/>
<circle cx="1629.5" cy="702.5" r="6.944"/>
<circle cx="1629.5" cy="692.5" r="6.944"/>
<circle cx="1629.5" cy="697.5" r="6.944"/>
<circle cx="1629.5" cy="707.5" r="6.944"/>
<circle cx="1629.5" cy="717.5" r="6.944"/>
<circle cx="1629.5" cy="727.5" r="6.944"/>
<circle cx="1640.5" cy="725.5" r="6.944"/>
<circle cx="1640.5" cy="716.5" r="6.944"/>
<circle cx="1640.5" cy="706.5" r="6.944"/>
<circle cx="1640.5" cy="696.5" r="6.944"/>
<circle cx="1640.5" cy="686.5" r="6.944"/>
<circle cx="1640.5" cy="681.5" r="6.944"/>
<circle cx="1640.5" cy="691.5" r="6.944"/>
<circle cx="1640.5" cy="701.5" r="6.944"/>
<circle cx="1640.5" cy="711.5" r="6.944"/>
<circle cx="1640.5" cy="721.5" r="6.944"/>
<circle cx="1640.5" cy="730.5" r="6.944"/>
<circle cx="1650.5" cy="723.5" r="6.944"/>
<circle cx="1650.5" cy="713.5" r="6.944"/>
<circle cx="1650.5" cy="702.5" r="6.944"/>
<circle cx="1650.5" cy="692.5" r="6.944"/>
<circle cx="1650.5" cy="682.5" r="6.944"/>
<circle cx="1650.5" cy="677.5" r="6.944"/>
<circle cx="1650.5" cy="687.5" r="6.944"/>
<circle cx="1650.5" cy="697.5" r="6.944"/>
<circle cx="1650.5" cy="708.5" r="6.944"/>
<circle cx="1650.5" cy="718.5" r="6.944"/>
<circle cx="1650.5" cy="728.5" r="6.944"/>
<circle cx="1659.5" cy="733.5" r="6.944"/>
<circle cx="1659.5" cy="722.5" r="6.944"/>
<circle cx="1659.5" cy="712.5" r="6.944"/>
<circle cx="1659.5" cy="701.5" r="6.944"/>
<circle cx="1659.5" cy="691.5" r="6.944"/>
<circle cx="1659.5" cy="680.5" r="6.944"/>
<circle cx="1659.5" cy="670.5" r="6.944"/>
<circle cx="1659.5" cy="665.5" r="6.944"/>
<circle cx="1659.5" cy="675.5" r="6.944"/>
<circle cx="1659.5" cy="686.5" r="6.944"/>
<circle cx="1659.5" cy="696.5" r="6.944"/>
<circle cx="1659.5" cy="706.5" r="6.944"/>
<circle cx="1659.5" cy="717.5" r="6.944"/>
<circle cx="1659.5" cy="727.5" r="6.944"/>
<circle cx="1669.5" cy="731.5" r="6.944"/>
<circle cx="1669.5" cy="721.5" r="6.944"/>
<circle cx="1669.5" cy="710.5" r="6.944"/>
<circle cx="1669.5" cy="699.5" r="6.944"/>
<circle cx="1669.5" cy="689.5" r="6.944"/>
<circle cx="1669.5" cy="678.5" r="6.944"/>
<circle cx="1669.5" cy="668.5" r="6.944"/>
<circle cx="1669.5" cy="657.5" r="6.944"/>
<circle cx="1669.5" cy="646.5" r="6.944"/>
<circle cx="1669.5" cy="652.5" r="6.944"/>
<circle cx="1669.5" cy="662.5" r="6.944"/>
<circle cx="1669.5" cy="673.5" r="6.944"/>
<circle cx="1669.5" cy="684.5" r="6.944"/>
<circle cx="1669.5" cy="694.5" r="6.944"/>
<circle cx="1669.5" cy="705.5" r="6.944"/>
<circle cx="1669.5" cy="715.5" r="6.944"/>
<circle cx="1669.5" cy="726.5" r="6.944"/>
<circle cx="1678.5" cy="731.5" r="6.944"/>
<circle cx="1678.5" cy="721.5" r="6.944"/>
<circle cx="1678.5" cy="710.5" r="6.944"/>
<circle cx="1678.5" cy="700.5" r="6.944"/>
<circle cx="1678.5" cy="690.5" r="6.944"/>
<circle cx="1678.5" cy="679.5" r="6.944"/>
<circle cx="1678.5" cy="669.5" r="6.944"/>
<circle cx="1678.5" cy="659.5" r="6.944"/>
<circle cx="1678.5" cy="649.5" r="6.944"/>
<circle cx="1678.5" cy="638.5" r="6.944"/>
<circle cx="1678.5" cy="628.5" r="6.944"/>
<circle cx="1678.5" cy="623.5" r="6.944"/>
<circle cx="1678.5" cy="633.5" r="6.944"/>
<circle cx="1678.5" cy="643.5" r="6.944"/>
<circle cx="1678.5" cy="654.5" r="6.944"/>
<circle cx="1678.5" cy="664.5" r="6.944"/>
<circle cx="1678.5" cy="674.5" r="6.944"/>
<circle cx="1678.5" cy="685.5" r="6.944"/>
<circle cx="1678.5" cy="695.5" r="6.944"/>
<circle cx="1678.5" cy="705.5" r="6.944"/>
<circle cx="1678.5" cy="715.5" r="6.944"/>
<circle cx="1678.5" cy="726.5" r="6.944"/>
<circle cx="1687.5" cy="724.5" r="6.944"/>
<circle cx="1687.5" cy="713.5" r="6.944"/>
<circle cx="1687.5" cy="701.5" r="6.944"/>
<circle cx="1687.5" cy="690.5" r="6.944"/>
<circle cx="1687.5" cy="679.5" r="6.944"/>
<circle cx="1687.5" cy="667.5" r="6.944"/>
<circle cx="1687.5" cy="656.5" r="6.944"/>
<circle cx="1687.5" cy="645.5" r="6.944"/>
<circle cx="1687.5" cy="633.5" r="6.944"/>
<circle cx="1687.5" cy="622.5" r="6.944"/>
<circle cx="1687.5" cy="611.5" r="6.944"/>
<circle cx="1687.5" cy="605.5" r="6.944"/>
<circle cx="1687.5" cy="616.5" r="6.944"/>
<circle cx="1687.5" cy="628.5" r="6.944"/>
<circle cx="1687.5" cy="639.5" r="6.944"/>
<circle cx="1687.5" cy="650.5" r="6.944"/>
<circle cx="1687.5" cy="662.5" r="6.944"/>
<circle cx="1687.5" cy="673.5" r="6.944"/>
<circle cx="1687.5" cy="684.5" r="6.944"/>
<circle cx="1687.5" cy="696.5" r="6.944"/>
<circle cx="1687.5" cy="707.5" r="6.944"/>
<circle cx="1687.5" cy="718.5" r="6.944"/>
<circle cx="1687.5" cy="730.5" r="6.944"/>
<circle cx="1696.5" cy="730.5" r="6.944"/>
<circle cx="1696.5" cy="718.5" r="6.944"/>
<circle cx="1696.5" cy="706.5" r="6.944"/>
<circle cx="1696.5" cy="694.5" r="6.944"/>
<circle cx="1696.5" cy="681.5" r="6.944"/>
<circle cx="1696.5" cy="669.5" r="6.944"/>
<circle cx="1696.5" cy="657.5" r="6.944"/>
<circle cx="1696.5" cy="645.5" r="6.944"/>
<circle cx="1696.5" cy="633.5" r="6.944"/>
<circle cx="1696.5" cy="621.5" r="6.944"/>
<circle cx="1696.5" cy="609.5" r="6.944"/>
<circle cx="1696.5" cy="597.5" r="6.944"/>
<circle cx="1696.5" cy="584.5" r="6.944"/>
<circle cx="1696.5" cy="578.5" r="6.944"/>
<circle cx="1696.5" cy="590.5" r="6.944"/>
<circle cx="1696.5" cy="603.5" r="6.944"/>
<circle cx="1696.5" cy="615.5" r="6.944"/>
<circle cx="1696.5" cy="627.5" r="6.944"/>
<circle cx="1696.5" cy="639.5" r="6.944"/>
<circle cx="1696.5" cy="651.5" r="6.944"/>
<circle cx="1696.5" cy="663.5" r="6.944"/>
<circle cx="1696.5" cy="675.5" r="6.944"/>
<circle cx="1696.5" cy="687.5" r="6.944"/>
<circle cx="1696.5" cy="700.5" r="6.944"/>
<circle cx="1696.5" cy="712.5" r="6.944"/>
<circle cx="1696.5" cy="724.5" r="6.944"/>
<circle cx="1702.5" cy="733.5" r="6.944"/>
<circle cx="1704.5" cy="709.5" r="6.944"/>
<circle cx="1704.5" cy="692.5" r="6.944"/>
<circle cx="1704.5" cy="676.5" r="6.944"/>
<circle cx="1704.5" cy="660.5" r="6.944"/>
<circle cx="1704.5" cy="643.5" r="6.944"/>
<circle cx="1704.5" cy="627.5" r="6.944"/>
<circle cx="1704.5" cy="611.5" r="6.944"/>
<circle cx="1704.5" cy="594.5" r="6.944"/>
<circle cx="1704.5" cy="578.5" r="6.944"/>
<circle cx="1704.5" cy="561.5" r="6.944"/>
<circle cx="1704.5" cy="545.5" r="6.944"/>
<circle cx="1704.5" cy="553.5" r="6.944"/>
<circle cx="1704.5" cy="570.5" r="6.944"/>
<circle cx="1704.5" cy="586.5" r="6.944"/>
<circle cx="1704.5" cy="602.5" r="6.944"/>
<circle cx="1704.5" cy="619.5" r="6.944"/>
<circle cx="1704.5" cy="635.5" r="6.944"/>
<circle cx="1704.5" cy="651.5" r="6.944"/>
<circle cx="1704.5" cy="668.5" r="6.944"/>
<circle cx="1704.5" cy="684.5" r="6.944"/>
<circle cx="1704.5" cy="700.5" r="6.944"/>
<circle cx="1704.5" cy="733.5" r="6.944"/>
<circle cx="1707.5" cy="733.5" r="6.944"/>
<circle cx="1708.5" cy="691.5" r="6.944"/>
<circle cx="1708.5" cy="691.5" r="6.944"/>
<circle cx="1708.5" cy="690.5" r="6.944"/>
<circle cx="1708.5" cy="690.5" r="6.944"/>
<circle cx="1708.5" cy="689.5" r="6.944"/>
<circle cx="1709.5" cy="689.5" r="6.944"/>
<circle cx="1709.5" cy="689.5" r="6.944"/>
<circle cx="1709.5" cy="688.5" r="6.944"/>
<circle cx="1709.5" cy="688.5" r="6.944"/>
<circle cx="1709.5" cy="687.5" r="6.944"/>
<circle cx="1709.5" cy="687.5" r="6.944"/>
<circle cx="1709.5" cy="686.5" r="6.944"/>
<circle cx="1709.5" cy="686.5" r="6.944"/>
<circle cx="1709.5" cy="685.5" r="6.944"/>
<circle cx="1709.5" cy="685.5" r="6.944"/>
<circle cx="1709.5" cy="684.5" r="6.944"/>
<circle cx="1709.5" cy="684.5" r="6.944"/>
<circle cx="1709.5" cy="684.5" r="6.944"/>
<circle cx="1709.5" cy="683.5" r="6.944"/>
<circle cx="1709.5" cy="683.5" r="6.944"/>
<circle cx="1709.5" cy="682.5" r="6.944"/>
<circle cx="1709.5" cy="682.5" r="6.944"/>
<circle cx="1709.5" cy="681.5" r="6.944"/>
<circle cx="1709.5" cy="681.5" r="6.944"/>
<circle cx="1709.5" cy="680.5" r="6.944"/>
<circle cx="1709.5" cy="680.5" r="6.944"/>
<circle cx="1709.5" cy="680.5" r="6.944"/>
<circle cx="1710.5" cy="679.5" r="6.944"/>
<circle cx="1710.5" cy="679.5" r="6.944"/>
<circle cx="1710.5" cy="678.5" r="6.944"/>
<circle cx="1710.5" cy="678.5" r="6.944"/>
<circle cx="1710.5" cy="677.5" r="6.944"/>
<circle cx="1710.5" cy="677.5" r="6.944"/>
<circle cx="1710.5" cy="676.5" r="6.944"/>
<circle cx="1710.5" cy="676.5" r="6.944"/>
<circle cx="1710.5" cy="676.5" r="6.944"/>
<circle cx="1710.5" cy="675.5" r="6.944"/>
<circle cx="1710.5" cy="675.5" r="6.944"/>
<circle cx="1710.5" cy="674.5" r="6.944"/>
<circle cx="1710.5" cy="674.5" r="6.944"/>
<circle cx="1710.5" cy="673.5" r="6.944"/>
<circle cx="1710.5" cy="673.5" r="6.944"/>
<circle cx="1710.5" cy="672.5" r="6.944"/>
<circle cx="1710.5" cy="672.5" r="6.944"/>
<circle cx="1710.5" cy="671.5" r="6.944"/>
<circle cx="1710.5" cy="671.5" r="6.944"/>
<circle cx="1710.5" cy="671.5" r="6.944"/>
<circle cx="1711.5" cy="670.5" r="6.944"/>
<circle cx="1711.5" cy="670.5" r="6.944"/>
<circle cx="1711.5" cy="669.5" r="6.944"/>
<circle cx="1711.5" cy="669.5" r="6.944"/>
<circle cx="1711.5" cy="668.5" r="6.944"/>
<circle cx="1711.5" cy="668.5" r="6.944"/>
<circle cx="1711.5" cy="667.5" r="6.944"/>
<circle cx="1711.5" cy="667.5" r="6.944"/>
<circle cx="1711.5" cy="667.5" r="6.944"/>
<circle cx="1711.5" cy="666.5" r="6.944"/>
<circle cx="1711.5" cy="666.5" r="6.944"/>
<circle cx="1711.5" cy="665.5" r="6.944"/>
<circle cx="1711.5" cy="665.5" r="6.944"/>
<circle cx="1711.5" cy="664.5" r="6.944"/>
<circle cx="1711.5" cy="664.5" r="6.944"/>
<circle cx="1711.5" cy="663.5" r="6.944"/>
<circle cx="1711.5" cy="663.5" r="6.944"/>
<circle cx="1711.5" cy="663.5" r="6.944"/>
<circle cx="1711.5" cy="662.5" r="6.944"/>
<circle cx="1711.5" cy="662.5" r="6.944"/>
<circle cx="1712.5" cy="661.5" r="6.944"/>
<circle cx="1712.5" cy="661.5" r="6.944"/>
<circle cx="1712.5" cy="660.5" r="6.944"/>
<circle cx="1712.5" cy="660.5" r="6.944"/>
<circle cx="1712.5" cy="659.5" r="6.944"/>
<circle cx="1712.5" cy="659.5" r="6.944"/>
<circle cx="1712.5" cy="659.5" r="6.944"/>
<circle cx="1712.5" cy="658.5" r="6.944"/>
<circle cx="1712.5" cy="658.5" r="6.944"/>
<circle cx="1712.5" cy="657.5" r="6.944"/>
<circle cx="1712.5" cy="657.5" r="6.944"/>
<circle cx="1712.5" cy="656.5" r="6.944"/>
<circle cx="1712.5" cy="656.5" r="6.944"/>
<circle cx="1712.5" cy="655.5" r="6.944"/>
<circle cx="1712.5" cy="655.5" r="6.944"/>
<circle cx="1712.5" cy="654.5" r="6.944"/>
<circle cx="1712.5" cy="654.5" r="6.944"/>
<circle cx="1712.5" cy="654.5" r="6.944"/>
<circle cx="1712.5" cy="653.5" r="6.944"/>
<circle cx="1712.5" cy="653.5" r="6.944"/>
<circle cx="1713.5" cy="652.5" r="6.944"/>
<circle cx="1713.5" cy="652.5" r="6.944"/>
<circle cx="1713.5" cy="652.5" r="6.944"/>
<circle cx="1713.5" cy="651.5" r="6.944"/>
<circle cx="1713.5" cy="651.5" r="6.944"/>
<circle cx="1713.5" cy="651.5" r="6.944"/>
<circle cx="1713.5" cy="650.5" r="6.944"/>
<circle cx="1713.5" cy="650.5" r="6.944"/>
<circle cx="1713.5" cy="650.5" r="6.944"/>
<circle cx="1713.5" cy="630.5" r="6.944"/>
<circle cx="1713.5" cy="610.5" r="6.944"/>
<circle cx="1713.5" cy="589.5" r="6.944"/>
<circle cx="1713.5" cy="569.5" r="6.944"/>
<circle cx="1713.5" cy="549.5" r="6.944"/>
<circle cx="1713.5" cy="539.5" r="6.944"/>
<circle cx="1713.5" cy="559.5" r="6.944"/>
<circle cx="1713.5" cy="579.5" r="6.944"/>
<circle cx="1713.5" cy="599.5" r="6.944"/>
<circle cx="1713.5" cy="620.5" r="6.944"/>
<circle cx="1713.5" cy="653.5" r="6.944"/>
<circle cx="1713.5" cy="653.5" r="6.944"/>
<circle cx="1713.5" cy="654.5" r="6.944"/>
<circle cx="1713.5" cy="654.5" r="6.944"/>
<circle cx="1713.5" cy="654.5" r="6.944"/>
<circle cx="1713.5" cy="655.5" r="6.944"/>
<circle cx="1713.5" cy="655.5" r="6.944"/>
<circle cx="1713.5" cy="656.5" r="6.944"/>
<circle cx="1713.5" cy="656.5" r="6.944"/>
<circle cx="1713.5" cy="657.5" r="6.944"/>
<circle cx="1713.5" cy="657.5" r="6.944"/>
<circle cx="1713.5" cy="658.5" r="6.944"/>
<circle cx="1713.5" cy="658.5" r="6.944"/>
<circle cx="1713.5" cy="659.5" r="6.944"/>
<circle cx="1713.5" cy="659.5" r="6.944"/>
<circle cx="1713.5" cy="659.5" r="6.944"/>
<circle cx="1713.5" cy="660.5" r="6.944"/>
<circle cx="1713.5" cy="660.5" r="6.944"/>
<circle cx="1713.5" cy="661.5" r="6.944"/>
<circle cx="1713.5" cy="661.5" r="6.944"/>
<circle cx="1713.5" cy="662.5" r="6.944"/>
<circle cx="1713.5" cy="662.5" r="6.944"/>
<circle cx="1713.5" cy="663.5" r="6.944"/>
<circle cx="1713.5" cy="663.5" r="6.944"/>
<circle cx="1713.5" cy="663.5" r="6.944"/>
<circle cx="1713.5" cy="664.5" r="6.944"/>
<circle cx="1713.5" cy="664.5" r="6.944"/>
<circle cx="1713.5" cy="665.5" r="6.944"/>
<circle cx="1713.5" cy="665.5" r="6.944"/>
<circle cx="1713.5" cy="666.5" r="6.944"/>
<circle cx="1713.5" cy="666.5" r="6.944"/>
<circle cx="1713.5" cy="667.5" r="6.944"/>
<circle cx="1713.5" cy="667.5" r="6.944"/>
<circle cx="1713.5" cy="668.5" r="6.944"/>
<circle cx="1713.5" cy="729.5" r="6.944"/>
<circle cx="1713.5" cy="730.5" r="6.944"/>
<circle cx="1713.5" cy="730.5" r="6.944"/>
<circle cx="1713.5" cy="730.5" r="6.944"/>
<circle cx="1713.5" cy="731.5" r="6.944"/>
<circle cx="1713.5" cy="731.5" r="6.944"/>
<circle cx="1713.5" cy="732.5" r="6.944"/>
<circle cx="1713.5" cy="732.5" r="6.944"/>
<circle cx="1713.5" cy="733.5" r="6.944"/>
<circle cx="1715.5" cy="733.5" r="6.944"/>
<circle cx="1715.5" cy="732.5" r="6.944"/>
<circle cx="1715.5" cy="732.5" r="6.944"/>
<circle cx="1715.5" cy="732.5" r="6.944"/>
<circle cx="1715.5" cy="731.5" r="6.944"/>
<circle cx="1715.5" cy="731.5" r="6.944"/>
<circle cx="1715.5" cy="730.5" r="6.944"/>
<circle cx="1715.5" cy="730.5" r="6.944"/>
<circle cx="1715.5" cy="729.5" r="6.944"/>
<circle cx="1716.5" cy="658.5" r="6.944"/>
<circle cx="1716.5" cy="658.5" r="6.944"/>
<circle cx="1716.5" cy="657.5" r="6.944"/>
<circle cx="1716.5" cy="657.5" r="6.944"/>
<circle cx="1716.5" cy="656.5" r="6.944"/>
<circle cx="1716.5" cy="656.5" r="6.944"/>
<circle cx="1716.5" cy="655.5" r="6.944"/>
<circle cx="1716.5" cy="655.5" r="6.944"/>
<circle cx="1716.5" cy="655.5" r="6.944"/>
<circle cx="1716.5" cy="654.5" r="6.944"/>
<circle cx="1716.5" cy="654.5" r="6.944"/>
<circle cx="1716.5" cy="653.5" r="6.944"/>
<circle cx="1716.5" cy="653.5" r="6.944"/>
<circle cx="1716.5" cy="652.5" r="6.944"/>
<circle cx="1716.5" cy="652.5" r="6.944"/>
<circle cx="1716.5" cy="651.5" r="6.944"/>
<circle cx="1716.5" cy="651.5" r="6.944"/>
<circle cx="1716.5" cy="650.5" r="6.944"/>
<circle cx="1716.5" cy="650.5" r="6.944"/>
<circle cx="1716.5" cy="650.5" r="6.944"/>
<circle cx="1716.5" cy="649.5" r="6.944"/>
<circle cx="1716.5" cy="649.5" r="6.944"/>
<circle cx="1716.5" cy="648.5" r="6.944"/>
<circle cx="1716.5" cy="648.5" r="6.944"/>
<circle cx="1716.5" cy="647.5" r="6.944"/>
<circle cx="1716.5" cy="647.5" r="6.944"/>
<circle cx="1716.5" cy="646.5" r="6.944"/>
<circle cx="1716.5" cy="646.5" r="6.944"/>
<circle cx="1716.5" cy="646.5" r="6.944"/>
<circle cx="1716.5" cy="645.5" r="6.944"/>
<circle cx="1716.5" cy="645.5" r="6.944"/>
<circle cx="1716.5" cy="644.5" r="6.944"/>
<circle cx="1716.5" cy="644.5" r="6.944"/>
<circle cx="1716.5" cy="643.5" r="6.944"/>
<circle cx="1716.5" cy="643.5" r="6.944"/>
<circle cx="1716.5" cy="642.5" r="6.944"/>
<circle cx="1716.5" cy="642.5" r="6.944"/>
<circle cx="1716.5" cy="641.5" r="6.944"/>
<circle cx="1716.5" cy="641.5" r="6.944"/>
<circle cx="1716.5" cy="641.5" r="6.944"/>
<circle cx="1716.5" cy="640.5" r="6.944"/>
<circle cx="1716.5" cy="640.5" r="6.944"/>
<circle cx="1716.5" cy="639.5" r="6.944"/>
<circle cx="1716.5" cy="639.5" r="6.944"/>
<circle cx="1716.5" cy="638.5" r="6.944"/>
<circle cx="1716.5" cy="638.5" r="6.944"/>
<circle cx="1716.5" cy="637.5" r="6.944"/>
<circle cx="1716.5" cy="637.5" r="6.944"/>
<circle cx="1716.5" cy="637.5" r="6.944"/>
<circle cx="1716.5" cy="636.5" r="6.944"/>
<circle cx="1716.5" cy="636.5" r="6.944"/>
<circle cx="1716.5" cy="635.5" r="6.944"/>
<circle cx="1716.5" cy="635.5" r="6.944"/>
<circle cx="1716.5" cy="634.5" r="6.944"/>
<circle cx="1716.5" cy="634.5" r="6.944"/>
<circle cx="1716.5" cy="633.5" r="6.944"/>
<circle cx="1716.5" cy="633.5" r="6.944"/>
<circle cx="1716.5" cy="632.5" r="6.944"/>
<circle cx="1716.5" cy="632.5" r="6.944"/>
<circle cx="1716.5" cy="632.5" r="6.944"/>
<circle cx="1716.5" cy="631.5" r="6.944"/>
<circle cx="1716.5" cy="631.5" r="6.944"/>
<circle cx="1716.5" cy="630.5" r="6.944"/>
<circle cx="1716.5" cy="630.5" r="6.944"/>
<circle cx="1716.5" cy="629.5" r="6.944"/>
<circle cx="1716.5" cy="629.5" r="6.944"/>
<circle cx="1716.5" cy="628.5" r="6.944"/>
<circle cx="1716.5" cy="628.5" r="6.944"/>
<circle cx="1717.5" cy="628.5" r="6.944"/>
<circle cx="1717.5" cy="627.5" r="6.944"/>
<circle cx="1717.5" cy="627.5" r="6.944"/>
<circle cx="1717.5" cy="626.5" r="6.944"/>
<circle cx="1717.5" cy="626.5" r="6.944"/>
<circle cx="1717.5" cy="625.5" r="6.944"/>
<circle cx="1717.5" cy="625.5" r="6.944"/>
<circle cx="1717.5" cy="624.5" r="6.944"/>
<circle cx="1717.5" cy="624.5" r="6.944"/>
<circle cx="1717.5" cy="623.5" r="6.944"/>
<circle cx="1717.5" cy="623.5" r="6.944"/>
<circle cx="1717.5" cy="623.5" r="6.944"/>
<circle cx="1717.5" cy="622.5" r="6.944"/>
<circle cx="1717.5" cy="622.5" r="6.944"/>
<circle cx="1717.5" cy="621.5" r="6.944"/>
<circle cx="1717.5" cy="621.5" r="6.944"/>
<circle cx="1717.5" cy="620.5" r="6.944"/>
<circle cx="1717.5" cy="620.5" r="6.944"/>
<circle cx="1717.5" cy="619.5" r="6.944"/>
<circle cx="1717.5" cy="619.5" r="6.944"/>
<circle cx="1717.5" cy="619.5" r="6.944"/>
<circle cx="1717.5" cy="618.5" r="6.944"/>
<circle cx="1717.5" cy="618.5" r="6.944"/>
<circle cx="1717.5" cy="617.5" r="6.944"/>
<circle cx="1717.5" cy="617.5" r="6.944"/>
<circle cx="1717.5" cy="616.5" r="6.944"/>
<circle cx="1717.5" cy="616.5" r="6.944"/>
<circle cx="1717.5" cy="615.5" r="6.944"/>
<circle cx="1717.5" cy="615.5" r="6.944"/>
<circle cx="1717.5" cy="614.5" r="6.944"/>
<circle cx="1717.5" cy="614.5" r="6.944"/>
<circle cx="1717.5" cy="614.5" r="6.944"/>
<circle cx="1717.5" cy="613.5" r="6.944"/>
<circle cx="1717.5" cy="613.5" r="6.944"/>
<circle cx="1717.5" cy="612.5" r="6.944"/>
<circle cx="1717.5" cy="612.5" r="6.944"/>
<circle cx="1717.5" cy="611.5" r="6.944"/>
<circle cx="1717.5" cy="611.5" r="6.944"/>
<circle cx="1718.5" cy="610.5" r="6.944"/>
<circle cx="1718.5" cy="610.5" r="6.944"/>
<circle cx="1718.5" cy="610.5" r="6.944"/>
<circle cx="1718.5" cy="609.5" r="6.944"/>
<circle cx="1718.5" cy="609.5" r="6.944"/>
<circle cx="1718.5" cy="608.5" r="6.944"/>
<circle cx="1718.5" cy="608.5" r="6.944"/>
<circle cx="1718.5" cy="607.5" r="6.944"/>
<circle cx="1718.5" cy="607.5" r="6.944"/>
<circle cx="1718.5" cy="606.5" r="6.944"/>
<circle cx="1718.5" cy="606.5" r="6.944"/>
<circle cx="1718.5" cy="605.5" r="6.944"/>
<circle cx="1718.5" cy="605.5" r="6.944"/>
<circle cx="1718.5" cy="605.5" r="6.944"/>
<circle cx="1718.5" cy="604.5" r="6.944"/>
<circle cx="1718.5" cy="604.5" r="6.944"/>
<circle cx="1718.5" cy="603.5" r="6.944"/>
<circle cx="1718.5" cy="603.5" r="6.944"/>
<circle cx="1718.5" cy="602.5" r="6.944"/>
<circle cx="1718.5" cy="602.5" r="6.944"/>
<circle cx="1718.5" cy="601.5" r="6.944"/>
<circle cx="1718.5" cy="601.5" r="6.944"/>
<circle cx="1718.5" cy="601.5" r="6.944"/>
<circle cx="1718.5" cy="600.5" r="6.944"/>
<circle cx="1718.5" cy="600.5" r="6.944"/>
<circle cx="1718.5" cy="599.5" r="6.944"/>
<circle cx="1718.5" cy="599.5" r="6.944"/>
<circle cx="1718.5" cy="598.5" r="6.944"/>
<circle cx="1718.5" cy="598.5" r="6.944"/>
<circle cx="1718.5" cy="597.5" r="6.944"/>
<circle cx="1719.5" cy="597.5" r="6.944"/>
<circle cx="1719.5" cy="597.5" r="6.944"/>
<circle cx="1719.5" cy="596.5" r="6.944"/>
<circle cx="1719.5" cy="596.5" r="6.944"/>
<circle cx="1719.5" cy="595.5" r="6.944"/>
<circle cx="1719.5" cy="595.5" r="6.944"/>
<circle cx="1719.5" cy="594.5" r="6.944"/>
<circle cx="1719.5" cy="594.5" r="6.944"/>
<circle cx="1719.5" cy="593.5" r="6.944"/>
<circle cx="1719.5" cy="593.5" r="6.944"/>
<circle cx="1719.5" cy="592.5" r="6.944"/>
<circle cx="1719.5" cy="592.5" r="6.944"/>
<circle cx="1719.5" cy="592.5" r="6.944"/>
<circle cx="1719.5" cy="591.5" r="6.944"/>
<circle cx="1719.5" cy="591.5" r="6.944"/>
<circle cx="1719.5" cy="590.5" r="6.944"/>
<circle cx="1719.5" cy="590.5" r="6.944"/>
<circle cx="1719.5" cy="589.5" r="6.944"/>
<circle cx="1719.5" cy="589.5" r="6.944"/>
<circle cx="1719.5" cy="588.5" r="6.944"/>
<circle cx="1719.5" cy="588.5" r="6.944"/>
<circle cx="1719.5" cy="588.5" r="6.944"/>
<circle cx="1719.5" cy="587.5" r="6.944"/>
<circle cx="1719.5" cy="587.5" r="6.944"/>
<circle cx="1719.5" cy="586.5" r="6.944"/>
<circle cx="1719.5" cy="586.5" r="6.944"/>
<circle cx="1719.5" cy="585.5" r="6.944"/>
<circle cx="1719.5" cy="585.5" r="6.944"/>
<circle cx="1719.5" cy="584.5" r="6.944"/>
<circle cx="1720.5" cy="584.5" r="6.944"/>
<circle cx="1720.5" cy="583.5" r="6.944"/>
<circle cx="1720.5" cy="583.5" r="6.944"/>
<circle cx="1720.5" cy="583.5" r="6.944"/>
<circle cx="1720.5" cy="582.5" r="6.944"/>
<circle cx="1720.5" cy="582.5" r="6.944"/>
<circle cx="1720.5" cy="581.5" r="6.944"/>
<circle cx="1720.5" cy="581.5" r="6.944"/>
<circle cx="1720.5" cy="580.5" r="6.944"/>
<circle cx="1720.5" cy="580.5" r="6.944"/>
<circle cx="1720.5" cy="579.5" r="6.944"/>
<circle cx="1720.5" cy="579.5" r="6.944"/>
<circle cx="1720.5" cy="579.5" r="6.944"/>
<circle cx="1720.5" cy="578.5" r="6.944"/>
<circle cx="1720.5" cy="578.5" r="6.944"/>
<circle cx="1720.5" cy="577.5" r="6.944"/>
<circle cx="1720.5" cy="577.5" r="6.944"/>
<circle cx="1720.5" cy="576.5" r="6.944"/>
<circle cx="1720.5" cy="576.5" r="6.944"/>
<circle cx="1720.5" cy="575.5" r="6.944"/>
<circle cx="1720.5" cy="575.5" r="6.944"/>
<circle cx="1720.5" cy="574.5" r="6.944"/>
<circle cx="1720.5" cy="574.5" r="6.944"/>
<circle cx="1720.5" cy="574.5" r="6.944"/>
<circle cx="1720.5" cy="573.5" r="6.944"/>
<circle cx="1720.5" cy="573.5" r="6.944"/>
<circle cx="1720.5" cy="572.5" r="6.944"/>
<circle cx="1720.5" cy="572.5" r="6.944"/>
<circle cx="1720.5" cy="571.5" r="6.944"/>
<circle cx="1721.5" cy="571.5" r="6.944"/>
<circle cx="1721.5" cy="570.5" r="6.944"/>
<circle cx="1721.5" cy="570.5" r="6.944"/>
<circle cx="1721.5" cy="555.5" r="6.944"/>
<circle cx="1721.5" cy="545.5" r="6.944"/>
<circle cx="1721.5" cy="580.5" r="6.944"/>
<circle cx="1722.5" cy="688.5" r="6.944"/>
<circle cx="1722.5" cy="688.5" r="6.944"/>
<circle cx="1722.5" cy="688.5" r="6.944"/>
<circle cx="1722.5" cy="689.5" r="6.944"/>
<circle cx="1722.5" cy="689.5" r="6.944"/>
<circle cx="1722.5" cy="689.5" r="6.944"/>
<circle cx="1722.5" cy="690.5" r="6.944"/>
<circle cx="1722.5" cy="690.5" r="6.944"/>
<circle cx="1722.5" cy="690.5" r="6.944"/>
<circle cx="1722.5" cy="691.5" r="6.944"/>
<circle cx="1722.5" cy="691.5" r="6.944"/>
<circle cx="1722.5" cy="691.5" r="6.944"/>
<circle cx="1722.5" cy="692.5" r="6.944"/>
<circle cx="1722.5" cy="692.5" r="6.944"/>
<circle cx="1722.5" cy="692.5" r="6.944"/>
<circle cx="1722.5" cy="693.5" r="6.944"/>
<circle cx="1722.5" cy="693.5" r="6.944"/>
<circle cx="1722.5" cy="693.5" r="6.944"/>
<circle cx="1722.5" cy="694.5" r="6.944"/>
<circle cx="1722.5" cy="694.5" r="6.944"/>
<circle cx="1722.5" cy="694.5" r="6.944"/>
<circle cx="1722.5" cy="695.5" r="6.944"/>
<circle cx="1722.5" cy="695.5" r="6.944"/>
<circle cx="1722.5" cy="695.5" r="6.944"/>
<circle cx="1722.5" cy="696.5" r="6.944"/>
<circle cx="1722.5" cy="696.5" r="6.944"/>
<circle cx="1722.5" cy="696.5" r="6.944"/>
<circle cx="1722.5" cy="697.5" r="6.944"/>
<circle cx="1722.5" cy="697.5" r="6.944"/>
<circle cx="1722.5" cy="697.5" r="6.944"/>
<circle cx="1722.5" cy="698.5" r="6.944"/>
<circle cx="1722.5" cy="698.5" r="6.944"/>
<circle cx="1722.5" cy="698.5" r="6.944"/>
<circle cx="1722.5" cy="699.5" r="6.944"/>
<circle cx="1722.5" cy="699.5" r="6.944"/>
<circle cx="1722.5" cy="699.5" r="6.944"/>
<circle cx="1722.5" cy="700.5" r="6.944"/>
<circle cx="1722.5" cy="700.5" r="6.944"/>
<circle cx="1722.5" cy="700.5" r="6.944"/>
<circle cx="1722.5" cy="701.5" r="6.944"/>
<circle cx="1722.5" cy="701.5" r="6.944"/>
<circle cx="1722.5" cy="701.5" r="6.944"/>
<circle cx="1722.5" cy="702.5" r="6.944"/>
<circle cx="1722.5" cy="702.5" r="6.944"/>
<circle cx="1722.5" cy="702.5" r="6.944"/>
<circle cx="1722.5" cy="703.5" r="6.944"/>
<circle cx="1722.5" cy="703.5" r="6.944"/>
<circle cx="1722.5" cy="703.5" r="6.944"/>
<circle cx="1722.5" cy="704.5" r="6.944"/>
<circle cx="1722.5" cy="704.5" r="6.944"/>
<circle cx="1722.5" cy="704.5" r="6.944"/>
<circle cx="1722.5" cy="705.5" r="6.944"/>
<circle cx="1722.5" cy="705.5" r="6.944"/>
<circle cx="1722.5" cy="705.5" r="6.944"/>
<circle cx="1722.5" cy="706.5" r="6.944"/>
<circle cx="1722.5" cy="706.5" r="6.944"/>
<circle cx="1722.5" cy="706.5" r="6.944"/>
<circle cx="1722.5" cy="707.5" r="6.944"/>
<circle cx="1722.5" cy="707.5" r="6.944"/>
<circle cx="1722.5" cy="707.5" r="6.944"/>
<circle cx="1722.5" cy="708.5" r="6.944"/>
<circle cx="1722.5" cy="708.5" r="6.944"/>
<circle cx="1722.5" cy="708.5" r="6.944"/>
<circle cx="1722.5" cy="709.5" r="6.944"/>
<circle cx="1722.5" cy="709.5" r="6.944"/>
<circle cx="1722.5" cy="709.5" r="6.944"/>
<circle cx="1722.5" cy="710.5" r="6.944"/>
<circle cx="1722.5" cy="710.5" r="6.944"/>
<circle cx="1722.5" cy="710.5" r="6.944"/>
<circle cx="1722.5" cy="711.5" r="6.944"/>
<circle cx="1722.5" cy="711.5" r="6.944"/>
<circle cx="1722.5" cy="711.5" r="6.944"/>
<circle cx="1722.5" cy="712.5" r="6.944"/>
<circle cx="1722.5" cy="712.5" r="6.944"/>
<circle cx="1722.5" cy="712.5" r="6.944"/>
<circle cx="1722.5" cy="713.5" r="6.944"/>
<circle cx="1722.5" cy="713.5" r="6.944"/>
<circle cx="1722.5" cy="713.5" r="6.944"/>
<circle cx="1722.5" cy="714.5" r="6.944"/>
<circle cx="1722.5" cy="714.5" r="6.944"/>
<circle cx="1722.5" cy="714.5" r="6.944"/>
<circle cx="1722.5" cy="715.5" r="6.944"/>
<circle cx="1722.5" cy="715.5" r="6.944"/>
<circle cx="1722.5" cy="715.5" r="6.944"/>
<circle cx="1722.5" cy="716.5" r="6.944"/>
<circle cx="1722.5" cy="716.5" r="6.944"/>
<circle cx="1722.5" cy="716.5" r="6.944"/>
<circle cx="1722.5" cy="717.5" r="6.944"/>
<circle cx="1722.5" cy="717.5" r="6.944"/>
<circle cx="1722.5" cy="717.5" r="6.944"/>
<circle cx="1722.5" cy="718.5" r="6.944"/>
<circle cx="1722.5" cy="718.5" r="6.944"/>
<circle cx="1722.5" cy="718.5" r="6.944"/>
<circle cx="1722.5" cy="719.5" r="6.944"/>
<circle cx="1722.5" cy="719.5" r="6.944"/>
<circle cx="1722.5" cy="719.5" r="6.944"/>
<circle cx="1722.5" cy="720.5" r="6.944"/>
<circle cx="1722.5" cy="720.5" r="6.944"/>
<circle cx="1722.5" cy="720.5" r="6.944"/>
<circle cx="1722.5" cy="721.5" r="6.944"/>
<circle cx="1722.5" cy="721.5" r="6.944"/>
<circle cx="1722.5" cy="721.5" r="6.944"/>
<circle cx="1722.5" cy="722.5" r="6.944"/>
<circle cx="1722.5" cy="722.5" r="6.944"/>
<circle cx="1722.5" cy="722.5" r="6.944"/>
<circle cx="1722.5" cy="723.5" r="6.944"/>
<circle cx="1722.5" cy="723.5" r="6.944"/>
<circle cx="1722.5" cy="723.5" r="6.944"/>
<circle cx="1722.5" cy="724.5" r="6.944"/>
<circle cx="1722.5" cy="724.5" r="6.944"/>
<circle cx="1722.5" cy="724.5" r="6.944"/>
<circle cx="1722.5" cy="725.5" r="6.944"/>
<circle cx="1722.5" cy="725.5" r="6.944"/>
<circle cx="1722.5" cy="725.5" r="6.944"/>
<circle cx="1722.5" cy="726.5" r="6.944"/>
<circle cx="1722.5" cy="726.5" r="6.944"/>
<circle cx="1722.5" cy="726.5" r="6.944"/>
<circle cx="1722.5" cy="727.5" r="6.944"/>
<circle cx="1722.5" cy="727.5" r="6.944"/>
<circle cx="1722.5" cy="727.5" r="6.944"/>
<circle cx="1722.5" cy="728.5" r="6.944"/>
<circle cx="1722.5" cy="728.5" r="6.944"/>
<circle cx="1722.5" cy="728.5" r="6.944"/>
<circle cx="1722.5" cy="729.5" r="6.944"/>
<circle cx="1722.5" cy="729.5" r="6.944"/>
<circle cx="1722.5" cy="729.5" r="6.944"/>
<circle cx="1722.5" cy="730.5" r="6.944"/>
<circle cx="1722.5" cy="730.5" r="6.944"/>
<circle cx="1722.5" cy="730.5" r="6.944"/>
<circle cx="1722.5" cy="731.5" r="6.944"/>
<circle cx="1722.5" cy="731.5" r="6.944"/>
<circle cx="1722.5" cy="731.5" r="6.944"/>
<circle cx="1722.5" cy="732.5" r="6.944"/>
<circle cx="1722.5" cy="732.5" r="6.944"/>
<circle cx="1722.5" cy="732.5" r="6.944"/>
<circle cx="1722.5" cy="733.5" r="6.944"/>
<circle cx="1722.5" cy="733.5" r="6.944"/>
<circle cx="1722.5" cy="687.5" r="6.944"/>
<circle cx="1722.5" cy="687.5" r="6.944"/>
<circle cx="1722.5" cy="687.5" r="6.944"/>
<circle cx="1722.5" cy="686.5" r="6.944"/>
<circle cx="1722.5" cy="686.5" r="6.944"/>
<circle cx="1722.5" cy="685.5" r="6.944"/>
<circle cx="1722.5" cy="685.5" r="6.944"/>
<circle cx="1722.5" cy="684.5" r="6.944"/>
<circle cx="1722.5" cy="684.5" r="6.944"/>
<circle cx="1722.5" cy="683.5" r="6.944"/>
<circle cx="1722.5" cy="683.5" r="6.944"/>
<circle cx="1722.5" cy="682.5" r="6.944"/>
<circle cx="1722.5" cy="682.5" r="6.944"/>
<circle cx="1722.5" cy="682.5" r="6.944"/>
<circle cx="1722.5" cy="681.5" r="6.944"/>
<circle cx="1722.5" cy="681.5" r="6.944"/>
<circle cx="1722.5" cy="680.5" r="6.944"/>
<circle cx="1722.5" cy="680.5" r="6.944"/>
<circle cx="1722.5" cy="679.5" r="6.944"/>
<circle cx="1722.5" cy="679.5" r="6.944"/>
<circle cx="1722.5" cy="678.5" r="6.944"/>
<circle cx="1722.5" cy="678.5" r="6.944"/>
<circle cx="1722.5" cy="678.5" r="6.944"/>
<circle cx="1722.5" cy="677.5" r="6.944"/>
<circle cx="1722.5" cy="677.5" r="6.944"/>
<circle cx="1722.5" cy="676.5" r="6.944"/>
<circle cx="1722.5" cy="676.5" r="6.944"/>
<circle cx="1722.5" cy="675.5" r="6.944"/>
<circle cx="1722.5" cy="675.5" r="6.944"/>
<circle cx="1722.5" cy="674.5" r="6.944"/>
<circle cx="1722.5" cy="674.5" r="6.944"/>
<circle cx="1722.5" cy="673.5" r="6.944"/>
<circle cx="1722.5" cy="673.5" r="6.944"/>
<circle cx="1722.5" cy="673.5" r="6.944"/>
<circle cx="1722.5" cy="672.5" r="6.944"/>
<circle cx="1722.5" cy="672.5" r="6.944"/>
<circle cx="1722.5" cy="671.5" r="6.944"/>
<circle cx="1722.5" cy="671.5" r="6.944"/>
<circle cx="1722.5" cy="670.5" r="6.944"/>
<circle cx="1722.5" cy="670.5" r="6.944"/>
<circle cx="1722.5" cy="669.5" r="6.944"/>
<circle cx="1722.5" cy="669.5" r="6.944"/>
<circle cx="1722.5" cy="669.5" r="6.944"/>
<circle cx="1722.5" cy="668.5" r="6.944"/>
<circle cx="1722.5" cy="668.5" r="6.944"/>
<circle cx="1722.5" cy="667.5" r="6.944"/>
<circle cx="1722.5" cy="667.5" r="6.944"/>
<circle cx="1722.5" cy="666.5" r="6.944"/>
<circle cx="1722.5" cy="666.5" r="6.944"/>
<circle cx="1722.5" cy="665.5" r="6.944"/>
<circle cx="1722.5" cy="665.5" r="6.944"/>
<circle cx="1722.5" cy="664.5" r="6.944"/>
<circle cx="1722.5" cy="664.5" r="6.944"/>
<circle cx="1722.5" cy="664.5" r="6.944"/>
<circle cx="1722.5" cy="663.5" r="6.944"/>
<circle cx="1722.5" cy="663.5" r="6.944"/>
<circle cx="1722.5" cy="662.5" r="6.944"/>
<circle cx="1722.5" cy="662.5" r="6.944"/>
<circle cx="1722.5" cy="661.5" r="6.944"/>
<circle cx="1722.5" cy="661.5" r="6.944"/>
<circle cx="1722.5" cy="660.5" r="6.944"/>
<circle cx="1722.5" cy="660.5" r="6.944"/>
<circle cx="1722.5" cy="660.5" r="6.944"/>
<circle cx="1722.5" cy="659.5" r="6.944"/>
<circle cx="1722.5" cy="659.5" r="6.944"/>
<circle cx="1722.5" cy="658.5" r="6.944"/>
<circle cx="1722.5" cy="658.5" r="6.944"/>
<circle cx="1722.5" cy="657.5" r="6.944"/>
<circle cx="1722.5" cy="657.5" r="6.944"/>
<circle cx="1722.5" cy="656.5" r="6.944"/>
<circle cx="1722.5" cy="656.5" r="6.944"/>
<circle cx="1722.5" cy="655.5" r="6.944"/>
<circle cx="1722.5" cy="655.5" r="6.944"/>
<circle cx="1722.5" cy="655.5" r="6.944"/>
<circle cx="1722.5" cy="654.5" r="6.944"/>
<circle cx="1722.5" cy="654.5" r="6.944"/>
<circle cx="1722.5" cy="653.5" r="6.944"/>
<circle cx="1722.5" cy="653.5" r="6.944"/>
<circle cx="1722.5" cy="652.5" r="6.944"/>
<circle cx="1722.5" cy="652.5" r="6.944"/>
<circle cx="1722.5" cy="651.5" r="6.944"/>
<circle cx="1722.5" cy="651.5" r="6.944"/>
<circle cx="1722.5" cy="651.5" r="6.944"/>
<circle cx="1722.5" cy="650.5" r="6.944"/>
<circle cx="1722.5" cy="650.5" r="6.944"/>
<circle cx="1722.5" cy="649.5" r="6.944"/>
<circle cx="1722.5" cy="649.5" r="6.944"/>
<circle cx="1722.5" cy="648.5" r="6.944"/>
<circle cx="1722.5" cy="648.5" r="6.944"/>
<circle cx="1722.5" cy="647.5" r="6.944"/>
<circle cx="1722.5" cy="647.5" r="6.944"/>
<circle cx="1722.5" cy="646.5" r="6.944"/>
<circle cx="1722.5" cy="646.5" r="6.944"/>
<circle cx="1722.5" cy="646.5" r="6.944"/>
<circle cx="1722.5" cy="645.5" r="6.944"/>
<circle cx="1722.5" cy="645.5" r="6.944"/>
<circle cx="1722.5" cy="644.5" r="6.944"/>
<circle cx="1722.5" cy="644.5" r="6.944"/>
<circle cx="1722.5" cy="643.5" r="6.944"/>
<circle cx="1722.5" cy="643.5" r="6.944"/>
<circle cx="1722.5" cy="642.5" r="6.944"/>
<circle cx="1722.5" cy="642.5" r="6.944"/>
<circle cx="1722.5" cy="642.5" r="6.944"/>
<circle cx="1722.5" cy="641.5" r="6.944"/>
<circle cx="1722.5" cy="641.5" r="6.944"/>
<circle cx="1722.5" cy="640.5" r="6.944"/>
<circle cx="1722.5" cy="640.5" r="6.944"/>
<circle cx="1722.5" cy="639.5" r="6.944"/>
<circle cx="1722.5" cy="639.5" r="6.944"/>
<circle cx="1722.5" cy="638.5" r="6.944"/>
<circle cx="1722.5" cy="638.5" r="6.944"/>
<circle cx="1722.5" cy="637.5" r="6.944"/>
<circle cx="1722.5" cy="637.5" r="6.944"/>
<circle cx="1722.5" cy="637.5" r="6.944"/>
<circle cx="1722.5" cy="636.5" r="6.944"/>
<circle cx="1722.5" cy="636.5" r="6.944"/>
<circle cx="1722.5" cy="635.5" r="6.944"/>
<circle cx="1722.5" cy="635.5" r="6.944"/>
<circle cx="1722.5" cy="634.5" r="6.944"/>
<circle cx="1722.5" cy="634.5" r="6.944"/>
<circle cx="1722.5" cy="633.5" r="6.944"/>
<circle cx="1722.5" cy="633.5" r="6.944"/>
<circle cx="1722.5" cy="633.5" r="6.944"/>
<circle cx="1722.5" cy="632.5" r="6.944"/>
<circle cx="1722.5" cy="632.5" r="6.944"/>
<circle cx="1722.5" cy="631.5" r="6.944"/>
<circle cx="1722.5" cy="631.5" r="6.944"/>
<circle cx="1722.5" cy="630.5" r="6.944"/>
<circle cx="1722.5" cy="630.5" r="6.944"/>
<circle cx="1722.5" cy="629.5" r="6.944"/>
<circle cx="1722.5" cy="629.5" r="6.944"/>
<circle cx="1722.5" cy="628.5" r="6.944"/>
<circle cx="1722.5" cy="628.5" r="6.944"/>
<circle cx="1722.5" cy="628.5" r="6.944"/>
<circle cx="1722.5" cy="627.5" r="6.944"/>
<circle cx="1722.5" cy="627.5" r="6.944"/>
<circle cx="1722.5" cy="626.5" r="6.944"/>
<circle cx="1722.5" cy="626.5" r="6.944"/>
<circle cx="1722.5" cy="625.5" r="6.944"/>
<circle cx="1722.5" cy="625.5" r="6.944"/>
<circle cx="1726.5" cy="542.5" r="6.944"/>
<circle cx="1726.5" cy="542.5" r="6.944"/>
<circle cx="1726.5" cy="541.5" r="6.944"/>
<circle cx="1726.5" cy="541.5" r="6.944"/>
<circle cx="1726.5" cy="540.5" r="6.944"/>
<circle cx="1726.5" cy="540.5" r="6.944"/>
<circle cx="1726.5" cy="539.5" r="6.944"/>
<circle cx="1726.5" cy="539.5" r="6.944"/>
<circle cx="1726.5" cy="539.5" r="6.944"/>
<circle cx="1726.5" cy="538.5" r="6.944"/>
<circle cx="1727.5" cy="538.5" r="6.944"/>
<circle cx="1730.5" cy="539.5" r="6.944"/>
<circle cx="1730.5" cy="550.5" r="6.944"/>
<circle cx="1730.5" cy="562.5" r="6.944"/>
<circle cx="1730.5" cy="573.5" r="6.944"/>
<circle cx="1730.5" cy="584.5" r="6.944"/>
<circle cx="1730.5" cy="595.5" r="6.944"/>
<circle cx="1730.5" cy="607.5" r="6.944"/>
<circle cx="1730.5" cy="618.5" r="6.944"/>
<circle cx="1730.5" cy="629.5" r="6.944"/>
<circle cx="1730.5" cy="641.5" r="6.944"/>
<circle cx="1730.5" cy="652.5" r="6.944"/>
<circle cx="1730.5" cy="663.5" r="6.944"/>
<circle cx="1730.5" cy="675.5" r="6.944"/>
<circle cx="1730.5" cy="686.5" r="6.944"/>
</g>
<path d="M1726.3 539L1726.4 570L1723.4 592L1721.5 640L1721.5 728.5L1712 729L1708 732.4L1701 732.4L1701.6 725L1705.6 705L1710.6 680L1716.6 654L1718.6 630L1722.6 600L1724.6 570Z" fill="#ff0" stroke="#ff0" stroke-width="15.2" stroke-linejoin="round" opacity=".97"/>
</g>
<g font-family='"DejaVu Sans","Liberation Sans",sans-serif' font-size="16.667" fill="#000">
<text transform="translate(888.87 945.56) rotate(-80)">n=1</text>
<text transform="translate(937.17 938.56) rotate(-80)">n=2</text>
<text transform="translate(982.97 929.56) rotate(-80)">n=3</text>
<text transform="translate(1025.97 921.56) rotate(-80)">n=4</text>
<text transform="translate(1065.57 913.56) rotate(-80)">n=5</text>
<text transform="translate(1138.97 898.56) rotate(-80)">n=6</text>
<text transform="translate(1171.97 890.56) rotate(-80)">n=7</text>
<text transform="translate(1202.97 883.56) rotate(-80)">n=8</text>
<text transform="translate(1231.97 875.96) rotate(-80)">n=9</text>
<text transform="translate(1259.97 868.56) rotate(-80)">n=10</text>
<text transform="translate(1286.17 860.96) rotate(-80)">n=11</text>
<text transform="translate(1310.97 853.56) rotate(-80)">n=12</text>
<text transform="translate(1334.97 845.96) rotate(-80)">n=13</text>
<text transform="translate(1357.17 838.56) rotate(-80)">n=14</text>
<text transform="translate(1378.97 831.56) rotate(-80)">n=15</text>
<text transform="translate(1399.07 823.96) rotate(-80)">n=16</text>
<text transform="translate(1418.27 816.26) rotate(-80)">n=17</text>
<text transform="translate(1436.97 808.56) rotate(-80)">n=18</text>
<text transform="translate(1454.87 801.56) rotate(-80)">n=19</text>
<text transform="translate(1471.37 793.56) rotate(-80)">n=20</text>
<text transform="translate(1487.77 785.56) rotate(-80)">n=21</text>
<text transform="translate(1503.17 777.56) rotate(-80)">n=22</text>
<text transform="translate(1517.97 769.56) rotate(-80)">n=23</text>
<text transform="translate(1532.97 761.96) rotate(-80)">n=24</text>
<text transform="translate(1546.57 753.16) rotate(-80)">n=25</text>
<text transform="translate(1559.97 743.96) rotate(-80)">n=26</text>
<text transform="translate(1572.87 734.56) rotate(-80)">n=27</text>
<text transform="translate(1585.07 724.06) rotate(-80)">n=28</text>
<text transform="translate(1596.87 714.56) rotate(-80)">n=29</text>
<text transform="translate(1608.77 704.06) rotate(-80)">n=30</text>
<text transform="translate(1620.17 692.56) rotate(-80)">n=31</text>
<text transform="translate(1630.87 680.06) rotate(-80)">n=32</text>
<text transform="translate(1641.37 667.06) rotate(-80)">n=33</text>
<text transform="translate(1651.87 651.56) rotate(-80)">n=34</text>
<text transform="translate(1661.87 634.56) rotate(-80)">n=35</text>
<text transform="translate(1671.27 612.06) rotate(-80)">n=36</text>
<text transform="translate(1690.07 560.56) rotate(-80)">n=37</text>
<text transform="translate(1699.07 524.56) rotate(-80)">n=38</text>
<text transform="translate(1707.77 479.86) rotate(-80)">n=39</text>
</g>
<rect x="250.5" y="144.5" width="1550" height="924" fill="none" stroke="#000" stroke-width="1.111"/>
<path d="M274.5 1068.5v11.11M337.65 1068.5v11.11M400.8 1068.5v11.11M463.95 1068.5v16.67M527.1 1068.5v11.11M590.25 1068.5v11.11M653.4 1068.5v11.11M716.55 1068.5v11.11M779.7 1068.5v16.67M842.85 1068.5v11.11M906 1068.5v11.11M969.15 1068.5v11.11M1032.3 1068.5v11.11M1095.45 1068.5v16.67M1158.6 1068.5v11.11M1221.75 1068.5v11.11M1284.9 1068.5v11.11M1348.05 1068.5v11.11M1411.2 1068.5v16.67M1474.35 1068.5v11.11M1537.5 1068.5v11.11M1600.65 1068.5v11.11M1663.8 1068.5v11.11M1726.95 1068.5v16.67M1790.1 1068.5v11.11M250.5 1025.19h-11.11M250.5 977.05h-11.11M250.5 928.9h-11.11M250.5 880.76h-16.67M250.5 832.62h-11.11M250.5 784.47h-11.11M250.5 736.33h-11.11M250.5 688.18h-16.67M250.5 640.03h-11.11M250.5 591.89h-11.11M250.5 543.75h-11.11M250.5 495.6h-16.67M250.5 447.45h-11.11M250.5 399.31h-11.11M250.5 351.16h-11.11M250.5 303.02h-16.67M250.5 254.88h-11.11M250.5 206.73h-11.11M250.5 158.59h-11.11" fill="none" stroke="#000" stroke-width="5.556"/>
<g font-family='"DejaVu Sans","Liberation Sans",sans-serif' fill="#000">
<text font-size="36.11" text-anchor="middle" x="463.93" y="1117">380.5</text>
<text font-size="36.11" text-anchor="middle" x="780.19" y="1117">381.0</text>
<text font-size="36.11" text-anchor="middle" x="1094.96" y="1117">381.5</text>
<text font-size="36.11" text-anchor="middle" x="1411.16" y="1117">382.0</text>
<text font-size="36.11" text-anchor="middle" x="1726.95" y="1117">382.5</text>
<text font-size="55.56" text-anchor="middle" x="1024.64" y="1171">Age (Myr)</text>
<text font-size="36.11" text-anchor="end" x="228.39" y="895">200</text>
<text font-size="36.11" text-anchor="end" x="228.34" y="702">400</text>
<text font-size="36.11" text-anchor="end" x="228.47" y="510">600</text>
<text font-size="36.11" text-anchor="end" x="228.34" y="317">800</text>
<text font-size="55.56" text-anchor="middle" transform="translate(141.4 606.23) rotate(-90)">O1 period (days)</text>
</g>
<rect x="263.5" y="157.5" width="535" height="291" rx="5" ry="5" fill="#fff" stroke="#ccc" stroke-width="1.389" opacity=".8"/>
<g fill="none" stroke-linecap="square">
<path d="M273 177H323" stroke="#000" stroke-width="2"/>
<path d="M273 214H323" stroke="#00f" stroke-width="4.167"/>
<path d="M273 251H323" stroke="#008000" stroke-width="4.167"/>
<path d="M273 287H323" stroke="#ffa500" stroke-width="2"/>
<path d="M273 361H323" stroke="#f00" stroke-width="2"/>
</g>
<circle cx="298.5" cy="177.5" r="2.25" fill="#000"/>
<circle cx="298.5" cy="324.5" r="4.167" fill="#90ee90" stroke="#90ee90" stroke-width="1.389"/>
<path d="M298.5 339.67L293.82 354.06L278.69 354.06L290.93 362.96L286.25 377.35L298.5 368.46L310.75 377.35L306.07 362.96L318.31 354.06L303.18 354.06Z" fill="#f00" stroke="#f00" stroke-width="1.389" stroke-linejoin="bevel"/>
<circle cx="298.5" cy="413.5" r="6.944" fill="#ff0" fill-opacity=".2" stroke="#ff0" stroke-opacity=".2" stroke-width="1.389"/>
<g font-family='"DejaVu Sans","Liberation Sans",sans-serif' font-size="25" fill="#000">
<text x="342.12" y="186">m3.00_z0.0100_y0.270</text>
<text x="342.05" y="223">peak detector horizontal bounds</text>
<text x="342.54" y="260">min. P consistent with observations</text>
<text x="342.54" y="296">max. P must fall within this span</text>
<text x="342.7" y="333">pulse region fit with cubic spline</text>
<text x="342.14" y="369">pulses identified</text>
<text x="342.07" y="405">intersection w/ P,L,T,R</text>
<text x="341.34" y="433">loosely defined</text>
</g>
</svg>
</body></html>
